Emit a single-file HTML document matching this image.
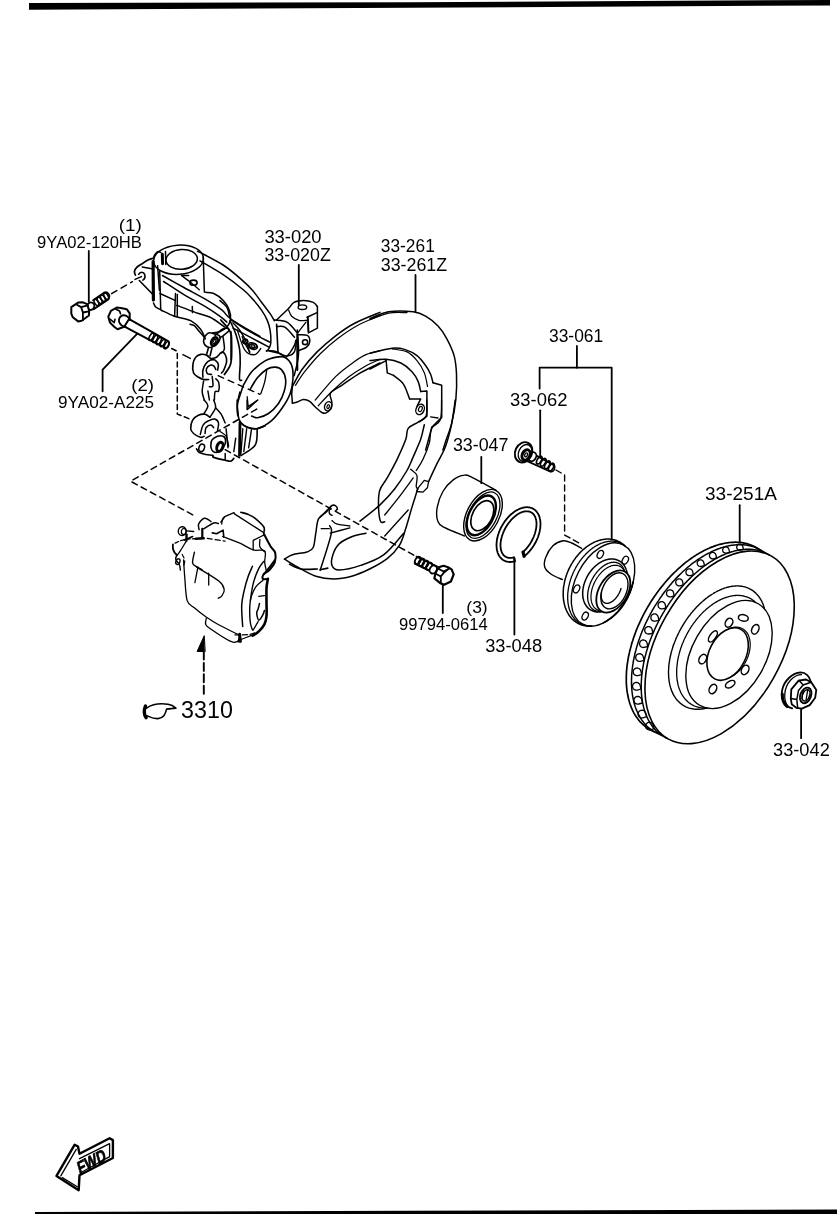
<!DOCTYPE html>
<html><head><meta charset="utf-8"><style>
html,body{margin:0;padding:0;background:#fff;}
svg{display:block;will-change:transform;}
text{font-family:"Liberation Sans",sans-serif;fill:#000;stroke:none;}
</style></head><body>
<svg width="837" height="1214" viewBox="0 0 837 1214">
<g stroke="#000" stroke-linecap="round" stroke-linejoin="round" fill="none">
<path d="M29 3 L410 2.2 L830 0 L830 5.5 L410 7.7 L29 9.7 Z" stroke="none" fill="#000"/>
<path d="M35 1212 L410 1210.8 L837 1209.5 L837 1214 L35 1214 Z" stroke="none" fill="#000"/>
<text x="118.8" y="231.0" font-size="16" textLength="23.1" lengthAdjust="spacingAndGlyphs">(1)</text>
<text x="37.1" y="247.6" font-size="16.5" textLength="104.8" lengthAdjust="spacingAndGlyphs">9YA02-120HB</text>
<text x="131.2" y="390.6" font-size="16" textLength="22.8" lengthAdjust="spacingAndGlyphs">(2)</text>
<text x="58.1" y="408.0" font-size="16.5" textLength="95.9" lengthAdjust="spacingAndGlyphs">9YA02-A225</text>
<text x="264.4" y="242.6" font-size="18" textLength="57.2" lengthAdjust="spacingAndGlyphs">33-020</text>
<text x="264.4" y="261.4" font-size="18" textLength="66.4" lengthAdjust="spacingAndGlyphs">33-020Z</text>
<text x="380.8" y="251.9" font-size="18" textLength="54.0" lengthAdjust="spacingAndGlyphs">33-261</text>
<text x="380.8" y="271.2" font-size="18" textLength="66.3" lengthAdjust="spacingAndGlyphs">33-261Z</text>
<text x="549.0" y="341.7" font-size="18" textLength="54.2" lengthAdjust="spacingAndGlyphs">33-061</text>
<text x="510.1" y="406.1" font-size="18" textLength="57.3" lengthAdjust="spacingAndGlyphs">33-062</text>
<text x="452.9" y="451.4" font-size="18" textLength="55.6" lengthAdjust="spacingAndGlyphs">33-047</text>
<text x="705.0" y="500.2" font-size="18" textLength="71.9" lengthAdjust="spacingAndGlyphs">33-251A</text>
<text x="466.3" y="612.6" font-size="16" textLength="21.4" lengthAdjust="spacingAndGlyphs">(3)</text>
<text x="399.0" y="630.3" font-size="16.5" textLength="88.7" lengthAdjust="spacingAndGlyphs">99794-0614</text>
<text x="485.2" y="651.8" font-size="18" textLength="56.9" lengthAdjust="spacingAndGlyphs">33-048</text>
<text x="181.1" y="717.7" font-size="24" textLength="51.8" lengthAdjust="spacingAndGlyphs">3310</text>
<text x="773.0" y="755.7" font-size="18" textLength="56.8" lengthAdjust="spacingAndGlyphs">33-042</text>
<path d="M88.8 251.0 L88.8 301.5" stroke-width="1.8" fill="none" />
<path d="M137.1 333.8 L102.6 369.7 L102.6 391.3" stroke-width="1.8" fill="none" />
<path d="M298.8 265.0 L298.8 305.0" stroke-width="1.8" fill="none" />
<path d="M415.5 275.0 L415.5 311.5" stroke-width="1.8" fill="none" />
<path d="M576.9 345.9 L576.9 367.7" stroke-width="1.8" fill="none" />
<path d="M539.6 388.6 L539.6 367.7 L611.7 367.7 L611.7 539.4" stroke-width="1.8" fill="none" />
<path d="M540.2 410.3 L540.2 457.6" stroke-width="1.8" fill="none" />
<path d="M481.3 456.8 L481.3 483.2" stroke-width="1.8" fill="none" />
<path d="M739.7 505.2 L739.7 542.3" stroke-width="1.8" fill="none" />
<path d="M442.8 583.0 L442.8 613.1" stroke-width="1.8" fill="none" />
<path d="M514.4 558.3 L514.4 634.6" stroke-width="1.8" fill="none" />
<path d="M801.1 708.8 L801.1 738.2" stroke-width="1.8" fill="none" />
<path d="M660.6 733.7 L659.5 733.4 L658.4 733.1 L657.3 732.8 L656.3 732.4 L655.2 732.0 L654.2 731.6 L653.1 731.2 L652.1 730.7 L651.1 730.2 L650.2 729.7 L649.2 729.1 L648.2 728.5 L647.3 727.9 L646.4 727.3 L645.5 726.6 L644.6 726.0 L643.8 725.2 L642.9 724.5 L642.1 723.7 L641.3 722.9 L640.5 722.1 L639.7 721.3 L639.0 720.4 L638.3 719.5 L637.6 718.6 L636.9 717.6 L636.2 716.7 L635.6 715.7 L634.9 714.7 L634.3 713.6 L633.7 712.6 L633.2 711.5 L632.6 710.4 L632.1 709.2 L631.6 708.1 L631.1 706.9 L630.7 705.7 L630.2 704.5 L629.8 703.3 L629.4 702.0 L629.1 700.8 L628.7 699.5 L628.4 698.2 L628.1 696.8 L627.8 695.5 L627.6 694.1 L627.3 692.7 L627.1 691.3 L626.9 689.9 L626.8 688.5 L626.6 687.1 L626.5 685.6 L626.4 684.1 L626.3 682.6 L626.3 681.1 L626.3 679.6 L626.3 678.1 L626.3 676.6 L626.4 675.0 L626.4 673.5 L626.5 671.9 L626.6 670.3 L626.8 668.7 L626.9 667.1 L627.1 665.5 L627.3 663.9 L627.6 662.3 L627.8 660.6 L628.1 659.0 L628.4 657.3 L628.7 655.7 L629.1 654.0 L629.5 652.4 L629.8 650.7 L630.3 649.0 L630.7 647.4 L631.2 645.7 L631.6 644.0 L632.1 642.3 L632.7 640.7 L633.2 639.0 L633.8 637.3 L634.4 635.6 L635.0 633.9 L635.6 632.3 L636.2 630.6 L636.9 628.9 L637.6 627.2 L638.3 625.6 L639.1 623.9 L639.8 622.3 L640.6 620.6 L641.4 619.0 L642.2 617.3 L643.0 615.7 L643.8 614.1 L644.7 612.4 L645.6 610.8 L646.5 609.2 L647.4 607.6 L648.3 606.0 L649.3 604.5 L650.2 602.9 L651.2 601.3 L652.2 599.8 L653.2 598.3 L654.2 596.7 L655.3 595.2 L656.3 593.7 L657.4 592.3 L658.5 590.8 L659.6 589.3 L660.7 587.9 L661.8 586.5 L663.0 585.1 L664.1 583.7 L665.3 582.3 L666.4 581.0 L667.6 579.6 L668.8 578.3 L670.0 577.0 L671.2 575.7 L672.5 574.4 L673.7 573.2 L674.9 572.0 L676.2 570.8 L677.4 569.6 L678.7 568.4 L680.0 567.3 L681.3 566.2 L682.5 565.1 L683.8 564.0 L685.1 562.9 L686.4 561.9 L687.8 560.9 L689.1 559.9 L690.4 559.0 L691.7 558.0 L693.0 557.1 L694.4 556.2 L695.7 555.4 L697.0 554.5 L698.4 553.7 L699.7 552.9 L701.0 552.2 L702.4 551.5 L703.7 550.8 L705.1 550.1 L706.4 549.4 L707.7 548.8 L709.1 548.2 L710.4 547.6 L711.7 547.1 L713.1 546.6 L714.4 546.1 L715.7 545.6 L717.0 545.2 L718.3 544.8 L719.7 544.4 L721.0 544.1 L722.3 543.8 L723.6 543.5 L724.8 543.2 L726.1 543.0 L727.4 542.8 L728.7 542.6 L729.9 542.5 L731.2 542.4 L732.4 542.3 L733.6 542.3 L734.9 542.2 L736.1 542.2 L737.3 542.3 L738.5 542.3 L739.7 542.4 L740.8 542.6 L742.0 542.7 L743.1 542.9 L744.3 543.1 L745.4 543.3 L746.5 543.6 L747.6 543.9 L748.7 544.2 L749.7 544.6 L750.8 545.0 L751.8 545.4 L752.9 545.8 L753.9 546.3 L754.9 546.8 L755.8 547.3 L756.8 547.9 L757.8 548.5 L758.7 549.1 L759.6 549.7 L760.5 550.4 L761.4 551.0 L762.2 551.8 L763.1 552.5" stroke-width="1.7"/>
<path d="M662.6 735.4 L661.5 735.1 L660.5 734.7 L659.4 734.3 L658.4 733.9 L657.4 733.4 L656.4 732.9 L655.4 732.4 L654.5 731.9 L653.5 731.3 L652.6 730.7 L651.7 730.1 L650.8 729.4 L649.9 728.7 L649.1 728.0 L648.2 727.3 L647.4 726.5 L646.6 725.8 L645.8 724.9 L645.0 724.1 L644.3 723.2 L643.6 722.4 L642.9 721.4 L642.2 720.5 L641.5 719.6 L640.9 718.6 L640.2 717.6 L639.6 716.5 L639.0 715.5 L638.5 714.4 L637.9 713.3 L637.4 712.2 L636.9 711.0 L636.4 709.9 L636.0 708.7 L635.5 707.5 L635.1 706.3 L634.7 705.0 L634.3 703.7 L634.0 702.5 L633.7 701.2 L633.4 699.8 L633.1 698.5 L632.8 697.1 L632.6 695.8 L632.4 694.4 L632.2 693.0 L632.0 691.5 L631.9 690.1 L631.8 688.6 L631.7 687.2 L631.6 685.7 L631.5 684.2 L631.5 682.7 L631.5 681.2 L631.5 679.6 L631.6 678.1 L631.6 676.5 L631.7 675.0 L631.8 673.4 L632.0 671.8 L632.1 670.2 L632.3 668.6 L632.5 667.0 L632.7 665.4 L633.0 663.7 L633.2 662.1 L633.5 660.5 L633.9 658.8 L634.2 657.2 L634.6 655.5 L634.9 653.8 L635.3 652.2 L635.8 650.5 L636.2 648.8 L636.7 647.1 L637.2 645.5 L637.7 643.8 L638.2 642.1 L638.8 640.4 L639.4 638.7 L640.0 637.1 L640.6 635.4 L641.2 633.7 L641.9 632.0 L642.6 630.4 L643.3 628.7 L644.0 627.0 L644.7 625.4 L645.5 623.7 L646.3 622.1 L647.1 620.4 L647.9 618.8 L648.7 617.1 L649.6 615.5 L650.4 613.9 L651.3 612.3 L652.2 610.7 L653.1 609.1 L654.1 607.5 L655.0 605.9 L656.0 604.4 L657.0 602.8 L658.0 601.3 L659.0 599.8 L660.0 598.3 L661.1 596.8 L662.1 595.3 L663.2 593.8 L664.3 592.3 L665.4 590.9 L666.5 589.5 L667.6 588.1 L668.8 586.7 L669.9 585.3 L671.1 583.9 L672.2 582.6 L673.4 581.2 L674.6 579.9 L675.8 578.6 L677.0 577.4 L678.3 576.1 L679.5 574.9 L680.7 573.7 L682.0 572.5 L683.2 571.3 L684.5 570.2 L685.8 569.0 L687.0 567.9 L688.3 566.8 L689.6 565.8 L690.9 564.7 L692.2 563.7 L693.5 562.7 L694.8 561.8 L696.1 560.8 L697.4 559.9 L698.8 559.0 L700.1 558.1 L701.4 557.3 L702.7 556.5 L704.1 555.7 L705.4 554.9 L706.7 554.2 L708.0 553.5 L709.4 552.8 L710.7 552.1 L712.0 551.5 L713.3 550.9 L714.7 550.3 L716.0 549.7 L717.3 549.2 L718.6 548.7 L719.9 548.3 L721.3 547.8 L722.6 547.4 L723.9 547.0 L725.2 546.7 L726.4 546.3 L727.7 546.1 L729.0 545.8 L730.3 545.5 L731.6 545.3 L732.8 545.2 L734.1 545.0 L735.3 544.9 L736.5 544.8 L737.8 544.7 L739.0 544.7 L740.2 544.7 L741.4 544.7 L742.6 544.8 L743.7 544.8 L744.9 545.0 L746.1 545.1 L747.2 545.3 L748.3 545.5 L749.4 545.7 L750.6 546.0 L751.6 546.2 L752.7 546.6 L753.8 546.9 L754.8 547.3 L755.9 547.7 L756.9 548.1 L757.9 548.6 L758.9 549.1 L759.9 549.6 L760.8 550.1 L761.8 550.7 L762.7 551.3 L763.6 551.9 L764.5 552.6 L765.4 553.2" stroke-width="1.5"/>
<path d="M667.2 738.4 L666.2 738.0 L665.2 737.5 L664.3 736.9 L663.3 736.4 L662.4 735.8 L661.5 735.2 L660.6 734.6 L659.8 733.9 L658.9 733.2 L658.1 732.5 L657.3 731.8 L656.4 731.0 L655.7 730.2 L654.9 729.4 L654.2 728.5 L653.4 727.7 L652.7 726.8 L652.0 725.8 L651.4 724.9 L650.7 723.9 L650.1 722.9 L649.5 721.9 L648.9 720.9 L648.3 719.8 L647.8 718.7 L647.3 717.6 L646.7 716.5 L646.3 715.3 L645.8 714.2 L645.4 713.0 L644.9 711.8 L644.5 710.5 L644.2 709.3 L643.8 708.0 L643.5 706.7 L643.2 705.4 L642.9 704.1 L642.6 702.7 L642.4 701.4 L642.2 700.0 L642.0 698.6 L641.8 697.2 L641.6 695.7 L641.5 694.3 L641.4 692.8 L641.3 691.4 L641.3 689.9 L641.2 688.4 L641.2 686.9 L641.2 685.3 L641.2 683.8 L641.3 682.3 L641.4 680.7 L641.5 679.1 L641.6 677.5 L641.7 675.9 L641.9 674.3 L642.1 672.7 L642.3 671.1 L642.5 669.5 L642.8 667.9 L643.1 666.2 L643.4 664.6 L643.7 662.9 L644.1 661.3 L644.4 659.6 L644.8 657.9 L645.2 656.3 L645.7 654.6 L646.1 652.9 L646.6 651.2 L647.1 649.6 L647.6 647.9 L648.1 646.2 L648.7 644.5 L649.3 642.8 L649.9 641.1 L650.5 639.5 L651.2 637.8 L651.8 636.1 L652.5 634.4 L653.2 632.8 L653.9 631.1 L654.7 629.4 L655.4 627.8 L656.2 626.1 L657.0 624.5 L657.8 622.9 L658.6 621.2 L659.5 619.6 L660.3 618.0 L661.2 616.4 L662.1 614.8 L663.0 613.2 L664.0 611.6 L664.9 610.0 L665.9 608.5 L666.9 606.9 L667.9 605.4 L668.9 603.9 L669.9 602.4 L670.9 600.9 L672.0 599.4 L673.0 597.9 L674.1 596.5 L675.2 595.0 L676.3 593.6 L677.4 592.2 L678.6 590.8 L679.7 589.4 L680.8 588.1 L682.0 586.7 L683.2 585.4 L684.4 584.1 L685.5 582.8 L686.7 581.6 L688.0 580.3 L689.2 579.1 L690.4 577.9 L691.6 576.7 L692.9 575.5 L694.1 574.4 L695.4 573.3 L696.6 572.2 L697.9 571.1 L699.2 570.0 L700.5 569.0 L701.7 568.0 L703.0 567.0 L704.3 566.0 L705.6 565.1 L706.9 564.2 L708.2 563.3 L709.5 562.4 L710.8 561.6 L712.1 560.8 L713.4 560.0 L714.8 559.2 L716.1 558.5 L717.4 557.8 L718.7 557.1 L720.0 556.5 L721.3 555.8 L722.6 555.2 L723.9 554.7 L725.2 554.1 L726.5 553.6 L727.8 553.1 L729.1 552.7 L730.4 552.2 L731.7 551.8 L733.0 551.5 L734.2 551.1 L735.5 550.8 L736.8 550.5 L738.0 550.3 L739.3 550.0 L740.5 549.8 L741.8 549.7 L743.0 549.5 L744.2 549.4 L745.4 549.3 L746.6 549.3 L747.8 549.2 L749.0 549.2 L750.2 549.3 L751.3 549.3 L752.5 549.4 L753.6 549.6 L754.8 549.7 L755.9 549.9 L757.0 550.1 L758.1 550.3 L759.2 550.6 L760.2 550.9 L761.3 551.2 L762.3 551.6 L763.4 552.0 L764.4 552.4 L765.4 552.8 L766.4 553.3 L767.3 553.8 L768.3 554.3 L769.2 554.9" stroke-width="1.5"/>
<ellipse cx="719.6" cy="647.4" rx="105.0" ry="62.0" transform="rotate(-60.6 719.6 647.4)" stroke-width="1.6" fill="none"/>
<path d="M654.2 728.6 L650.5 729.8 L649.0 730.0 L647.6 729.5 L646.4 728.6 L645.7 727.2 L645.6 725.7 L646.0 724.3 L647.0 723.1 L648.3 722.4 L649.8 722.3 L651.2 722.7 L652.4 723.6 L653.1 725.0Z" stroke-width="1.3"/>
<path d="M646.7 716.7 L643.0 717.8 L641.5 717.9 L640.1 717.5 L638.9 716.5 L638.2 715.1 L638.1 713.6 L638.5 712.2 L639.5 711.0 L640.9 710.3 L642.4 710.2 L643.8 710.6 L645.0 711.6 L645.7 713.0Z" stroke-width="1.3"/>
<path d="M642.5 703.0 L638.8 704.0 L637.3 704.1 L635.9 703.7 L634.7 702.7 L634.0 701.3 L633.9 699.8 L634.4 698.3 L635.4 697.2 L636.8 696.5 L638.3 696.4 L639.7 696.9 L640.9 697.9 L641.6 699.2Z" stroke-width="1.3"/>
<path d="M641.1 689.0 L637.4 690.1 L635.8 690.2 L634.4 689.7 L633.3 688.6 L632.6 687.3 L632.5 685.8 L633.0 684.3 L634.0 683.2 L635.4 682.5 L636.9 682.4 L638.3 682.9 L639.5 683.9 L640.1 685.3Z" stroke-width="1.3"/>
<path d="M641.7 674.6 L638.0 675.6 L636.5 675.7 L635.1 675.2 L633.9 674.2 L633.3 672.8 L633.2 671.3 L633.7 669.9 L634.7 668.8 L636.1 668.1 L637.6 668.0 L639.0 668.5 L640.2 669.6 L640.8 670.9Z" stroke-width="1.3"/>
<path d="M644.1 660.3 L640.4 661.3 L638.9 661.3 L637.5 660.8 L636.4 659.8 L635.8 658.5 L635.7 657.0 L636.2 655.5 L637.2 654.4 L638.6 653.8 L640.1 653.7 L641.5 654.3 L642.6 655.3 L643.2 656.6Z" stroke-width="1.3"/>
<path d="M647.8 646.5 L644.2 647.4 L642.7 647.5 L641.3 647.0 L640.2 646.0 L639.6 644.6 L639.6 643.1 L640.1 641.7 L641.1 640.6 L642.5 640.0 L643.9 640.0 L645.3 640.5 L646.4 641.5 L647.0 642.8Z" stroke-width="1.3"/>
<path d="M652.9 633.1 L649.3 634.0 L647.8 634.0 L646.4 633.5 L645.4 632.5 L644.8 631.2 L644.7 629.7 L645.2 628.3 L646.2 627.3 L647.6 626.7 L649.0 626.6 L650.4 627.1 L651.5 628.1 L652.1 629.5Z" stroke-width="1.3"/>
<path d="M658.9 620.3 L655.3 621.2 L653.9 621.2 L652.5 620.7 L651.5 619.7 L650.9 618.4 L650.9 616.9 L651.4 615.6 L652.4 614.5 L653.7 613.9 L655.2 613.9 L656.5 614.4 L657.6 615.4 L658.1 616.7Z" stroke-width="1.3"/>
<path d="M666.0 608.0 L662.5 608.8 L661.1 608.9 L659.7 608.4 L658.7 607.4 L658.1 606.1 L658.1 604.6 L658.6 603.3 L659.6 602.3 L660.9 601.7 L662.3 601.7 L663.6 602.2 L664.7 603.2 L665.2 604.5Z" stroke-width="1.3"/>
<path d="M674.2 596.0 L670.8 596.8 L669.4 596.9 L668.1 596.3 L667.1 595.4 L666.5 594.1 L666.5 592.7 L667.0 591.4 L668.0 590.4 L669.3 589.8 L670.7 589.8 L672.0 590.3 L673.0 591.3 L673.5 592.6Z" stroke-width="1.3"/>
<path d="M683.3 585.0 L679.9 585.8 L678.6 585.8 L677.3 585.3 L676.3 584.4 L675.8 583.1 L675.7 581.7 L676.2 580.5 L677.2 579.5 L678.4 578.9 L679.8 578.9 L681.1 579.4 L682.1 580.3 L682.6 581.6Z" stroke-width="1.3"/>
<path d="M693.3 574.8 L690.1 575.6 L688.7 575.7 L687.5 575.2 L686.5 574.2 L686.0 573.0 L685.9 571.7 L686.4 570.4 L687.3 569.5 L688.6 568.9 L689.9 568.9 L691.2 569.4 L692.1 570.3 L692.7 571.5Z" stroke-width="1.3"/>
<path d="M704.5 565.7 L701.3 566.5 L700.0 566.5 L698.7 566.0 L697.8 565.1 L697.3 563.9 L697.2 562.6 L697.7 561.4 L698.6 560.5 L699.8 559.9 L701.1 559.9 L702.3 560.4 L703.3 561.3 L703.8 562.5Z" stroke-width="1.3"/>
<path d="M716.6 558.0 L713.4 558.8 L712.2 558.9 L711.0 558.4 L710.0 557.5 L709.5 556.4 L709.5 555.1 L709.9 553.9 L710.8 553.0 L712.0 552.4 L713.3 552.4 L714.5 552.9 L715.4 553.7 L715.9 554.9Z" stroke-width="1.3"/>
<path d="M729.6 552.3 L726.6 553.1 L725.3 553.2 L724.2 552.7 L723.2 551.9 L722.7 550.8 L722.7 549.5 L723.1 548.4 L724.0 547.4 L725.1 546.9 L726.3 546.9 L727.5 547.3 L728.4 548.2 L728.9 549.3Z" stroke-width="1.3"/>
<path d="M743.4 549.4 L740.5 550.2 L739.3 550.2 L738.2 549.8 L737.3 549.0 L736.7 547.9 L736.7 546.7 L737.1 545.5 L737.9 544.6 L739.0 544.1 L740.2 544.1 L741.4 544.5 L742.3 545.3 L742.8 546.4Z" stroke-width="1.3"/>
<path d="M707.1 708.0 L706.2 708.2 L705.4 708.4 L704.6 708.6 L703.8 708.7 L703.0 708.9 L702.1 709.0 L701.3 709.1 L700.5 709.1 L699.7 709.2 L698.9 709.2 L698.2 709.3 L697.4 709.3 L696.6 709.3 L695.8 709.2 L695.1 709.2 L694.3 709.1 L693.6 709.0 L692.8 708.9 L692.1 708.8 L691.4 708.6 L690.6 708.4 L689.9 708.3 L689.2 708.1 L688.5 707.8 L687.9 707.6 L687.2 707.3 L686.5 707.1 L685.9 706.8 L685.2 706.4 L684.6 706.1 L684.0 705.8 L683.3 705.4 L682.7 705.0 L682.1 704.6 L681.5 704.2 L681.0 703.8 L680.4 703.3 L679.9 702.8 L679.3 702.4 L678.8 701.8 L678.3 701.3 L677.8 700.8 L677.3 700.2 L676.8 699.7 L676.3 699.1 L675.9 698.5 L675.4 697.9 L675.0 697.2 L674.6 696.6 L674.2 695.9 L673.8 695.3 L673.4 694.6 L673.0 693.9 L672.7 693.1 L672.4 692.4 L672.0 691.7 L671.7 690.9 L671.4 690.1 L671.1 689.3 L670.9 688.5 L670.6 687.7 L670.4 686.9 L670.2 686.1 L669.9 685.2 L669.7 684.4 L669.6 683.5 L669.4 682.6 L669.2 681.7 L669.1 680.8 L669.0 679.9 L668.9 679.0 L668.8 678.1 L668.7 677.1 L668.6 676.2 L668.6 675.2 L668.6 674.2 L668.5 673.3 L668.5 672.3 L668.5 671.3 L668.6 670.3 L668.6 669.3 L668.7 668.3 L668.7 667.3 L668.8 666.2 L668.9 665.2 L669.0 664.2 L669.2 663.1 L669.3 662.1 L669.5 661.1 L669.6 660.0 L669.8 658.9 L670.0 657.9 L670.2 656.8 L670.5 655.8 L670.7 654.7 L671.0 653.6 L671.2 652.5 L671.5 651.5 L671.8 650.4 L672.2 649.3 L672.5 648.2 L672.8 647.2 L673.2 646.1 L673.5 645.0 L673.9 643.9 L674.3 642.9 L674.7 641.8 L675.2 640.7 L675.6 639.7 L676.0 638.6 L676.5 637.5 L677.0 636.5 L677.5 635.4 L678.0 634.4 L678.5 633.3 L679.0 632.3 L679.5 631.2 L680.1 630.2 L680.6 629.2 L681.2 628.1 L681.8 627.1 L682.4 626.1 L683.0 625.1 L683.6 624.1 L684.2 623.1 L684.8 622.1 L685.5 621.1 L686.1 620.2 L686.8 619.2 L687.4 618.3 L688.1 617.3 L688.8 616.4 L689.5 615.5 L690.2 614.6 L690.9 613.6 L691.6 612.8 L692.4 611.9 L693.1 611.0 L693.9 610.1 L694.6 609.3 L695.4 608.5 L696.1 607.6 L696.9 606.8 L697.7 606.0 L698.5 605.2 L699.2 604.4 L700.0 603.7 L700.8 602.9 L701.6 602.2 L702.5 601.5 L703.3 600.8 L704.1 600.1 L704.9 599.4 L705.7 598.7 L706.6 598.1 L707.4 597.5 L708.2 596.8 L709.1 596.2 L709.9 595.6 L710.8 595.1 L711.6 594.5 L712.5 594.0 L713.3 593.5 L714.2 592.9 L715.0 592.5 L715.9 592.0 L716.7 591.5 L717.6 591.1 L718.4 590.7 L719.3 590.3 L720.1 589.9 L721.0 589.5 L721.8 589.1 L722.7 588.8 L723.5 588.5 L724.4 588.2 L725.2 587.9 L726.0 587.7 L726.9 587.4 L727.7 587.2 L728.6 587.0 L729.4 586.8 L730.2 586.6 L731.0 586.5 L731.8 586.3 L732.7 586.2 L733.5 586.1 L734.3 586.1 L735.1 586.0 L735.9 586.0 L736.6 585.9 L737.4 585.9 L738.2 585.9 L739.0 586.0 L739.7 586.0 L740.5 586.1 L741.2 586.2 L742.0 586.3 L742.7 586.4 L743.4 586.6 L744.2 586.8 L744.9 586.9 L745.6 587.1 L746.3 587.4 L746.9 587.6 L747.6 587.9 L748.3 588.1 L748.9 588.4 L749.6 588.8 L750.2 589.1 L750.8 589.4 L751.5 589.8 L752.1 590.2 L752.7 590.6 L753.3 591.0 L753.8 591.4 L754.4 591.9 L754.9 592.4 L755.5 592.8 L756.0 593.4 L756.5 593.9 L757.0 594.4 L757.5 595.0 L758.0 595.5 L758.5 596.1 L758.9 596.7 L759.4 597.3 L759.8 598.0 L760.2 598.6 L760.6 599.3 L761.0 599.9 L761.4 600.6 L761.8 601.3 L762.1 602.1 L762.4 602.8 L762.8 603.5 L763.1 604.3 L763.4 605.1 L763.7 605.9 L763.9 606.7 L764.2 607.5 L764.4 608.3" stroke-width="1.4"/>
<path d="M706.3 708.0 L705.5 708.0 L704.8 708.0 L704.1 708.0 L703.4 708.0 L702.7 707.9 L702.0 707.8 L701.3 707.8 L700.6 707.7 L699.9 707.5 L699.2 707.4 L698.5 707.3 L697.9 707.1 L697.2 706.9 L696.5 706.7 L695.9 706.5 L695.3 706.3 L694.6 706.0 L694.0 705.8 L693.4 705.5 L692.8 705.2 L692.2 704.9 L691.6 704.5 L691.0 704.2 L690.5 703.8 L689.9 703.4 L689.4 703.0 L688.8 702.6 L688.3 702.2 L687.8 701.8 L687.3 701.3 L686.8 700.8 L686.3 700.3 L685.8 699.8 L685.3 699.3 L684.9 698.8 L684.4 698.2 L684.0 697.7 L683.6 697.1 L683.2 696.5 L682.8 695.9 L682.4 695.3 L682.0 694.7 L681.6 694.0 L681.3 693.4 L680.9 692.7 L680.6 692.0 L680.3 691.3 L680.0 690.6 L679.7 689.9 L679.4 689.2 L679.2 688.5 L678.9 687.7 L678.7 687.0 L678.5 686.2 L678.2 685.4 L678.0 684.6 L677.9 683.8 L677.7 683.0 L677.5 682.2 L677.4 681.3 L677.2 680.5 L677.1 679.7 L677.0 678.8 L676.9 677.9 L676.8 677.1 L676.8 676.2 L676.7 675.3 L676.7 674.4 L676.7 673.5 L676.7 672.6 L676.7 671.7 L676.7 670.7 L676.7 669.8 L676.7 668.9 L676.8 667.9 L676.9 667.0 L677.0 666.1 L677.1 665.1 L677.2 664.1 L677.3 663.2 L677.4 662.2 L677.6 661.3 L677.7 660.3 L677.9 659.3 L678.1 658.3 L678.3 657.4 L678.5 656.4 L678.8 655.4 L679.0 654.4 L679.3 653.4 L679.5 652.5 L679.8 651.5 L680.1 650.5 L680.4 649.5 L680.7 648.5 L681.1 647.6 L681.4 646.6 L681.8 645.6 L682.1 644.6 L682.5 643.6 L682.9 642.7 L683.3 641.7 L683.7 640.7 L684.1 639.8 L684.6 638.8 L685.0 637.9 L685.5 636.9 L686.0 636.0 L686.4 635.0 L686.9 634.1 L687.4 633.2 L688.0 632.2 L688.5 631.3 L689.0 630.4 L689.6 629.5 L690.1 628.6 L690.7 627.7 L691.2 626.8 L691.8 625.9 L692.4 625.1 L693.0 624.2 L693.6 623.4 L694.2 622.5 L694.9 621.7 L695.5 620.9 L696.1 620.0 L696.8 619.2 L697.4 618.4 L698.1 617.6 L698.8 616.9 L699.4 616.1 L700.1 615.3 L700.8 614.6 L701.5 613.9 L702.2 613.1 L702.9 612.4 L703.6 611.7 L704.3 611.1 L705.1 610.4 L705.8 609.7 L706.5 609.1 L707.3 608.4 L708.0 607.8 L708.8 607.2 L709.5 606.6 L710.3 606.0 L711.0 605.5 L711.8 604.9 L712.5 604.4 L713.3 603.8 L714.1 603.3 L714.8 602.8 L715.6 602.4 L716.4 601.9 L717.2 601.4 L717.9 601.0 L718.7 600.6 L719.5 600.2 L720.3 599.8 L721.1 599.4 L721.8 599.1 L722.6 598.7 L723.4 598.4 L724.2 598.1 L724.9 597.8 L725.7 597.5 L726.5 597.3 L727.3 597.0 L728.0 596.8 L728.8 596.6 L729.6 596.4 L730.3 596.2 L731.1 596.1 L731.9 595.9 L732.6 595.8 L733.4 595.7 L734.1 595.6 L734.9 595.5 L735.6 595.5 L736.3 595.4 L737.1 595.4 L737.8 595.4 L738.5 595.4 L739.2 595.4 L739.9 595.5 L740.6 595.6 L741.3 595.6 L742.0 595.7 L742.7 595.9 L743.4 596.0 L744.1 596.1 L744.7 596.3 L745.4 596.5 L746.1 596.7 L746.7 596.9 L747.3 597.1 L748.0 597.4 L748.6 597.6 L749.2 597.9 L749.8 598.2 L750.4 598.5 L751.0 598.9 L751.6 599.2 L752.1 599.6 L752.7 600.0 L753.2 600.4 L753.8 600.8 L754.3 601.2 L754.8 601.6 L755.3 602.1" stroke-width="1.3"/>
<ellipse cx="729.0" cy="654.5" rx="58.6" ry="36.6" transform="rotate(-60.0 729.0 654.5)" stroke-width="1.4" fill="none"/>
<ellipse cx="727.6" cy="654.0" rx="28.0" ry="18.3" transform="rotate(-62.6 727.6 654.0)" stroke-width="1.6" fill="none"/>
<path d="M729.9 628.4 L730.3 628.3 L730.6 628.2 L731.0 628.0 L731.4 627.9 L731.7 627.8 L732.1 627.7 L732.4 627.6 L732.8 627.6 L733.1 627.5 L733.5 627.4 L733.9 627.4 L734.2 627.3 L734.6 627.3 L734.9 627.2 L735.2 627.2 L735.6 627.2 L735.9 627.2 L736.3 627.2 L736.6 627.2 L737.0 627.2 L737.3 627.2 L737.6 627.2 L737.9 627.3 L738.3 627.3 L738.6 627.4 L738.9 627.4 L739.2 627.5 L739.6 627.6 L739.9 627.7 L740.2 627.7 L740.5 627.8 L740.8 627.9 L741.1 628.1 L741.4 628.2 L741.7 628.3 L742.0 628.4 L742.3 628.6 L742.5 628.7 L742.8 628.9 L743.1 629.1 L743.4 629.2 L743.6 629.4 L743.9 629.6 L744.1 629.8 L744.4 630.0 L744.6 630.2 L744.9 630.4 L745.1 630.6 L745.4 630.9 L745.6 631.1 L745.8 631.3 L746.0 631.6 L746.2 631.9 L746.5 632.1 L746.7 632.4 L746.9 632.7 L747.0 632.9 L747.2 633.2 L747.4 633.5 L747.6 633.8 L747.8 634.1 L747.9 634.4 L748.1 634.7 L748.3 635.1 L748.4 635.4 L748.5 635.7 L748.7 636.1 L748.8 636.4 L748.9 636.8 L749.1 637.1 L749.2 637.5 L749.3 637.8 L749.4 638.2 L749.5 638.6 L749.6 638.9 L749.7 639.3 L749.7 639.7 L749.8 640.1 L749.9 640.5 L749.9 640.9 L750.0 641.3 L750.0 641.7 L750.1 642.1 L750.1 642.5 L750.1 642.9 L750.2 643.3 L750.2 643.8 L750.2 644.2 L750.2 644.6 L750.2 645.0 L750.2 645.5 L750.2 645.9 L750.1 646.3 L750.1 646.8 L750.1 647.2 L750.0 647.6 L750.0 648.1 L749.9 648.5 L749.9 649.0 L749.8 649.4 L749.8 649.9 L749.7 650.3 L749.6 650.8 L749.5 651.2 L749.4 651.7 L749.3 652.1 L749.2 652.6 L749.1 653.0 L749.0 653.5 L748.8 653.9 L748.7 654.4 L748.6 654.8 L748.4 655.3 L748.3 655.7 L748.1 656.2 L748.0 656.6 L747.8 657.1 L747.6 657.5 L747.5 657.9 L747.3 658.4 L747.1 658.8 L746.9 659.3 L746.7 659.7 L746.5 660.1 L746.3 660.6 L746.1 661.0 L745.8 661.4 L745.6 661.8 L745.4 662.3 L745.2 662.7 L744.9 663.1 L744.7 663.5 L744.4 663.9 L744.2 664.3 L743.9 664.7 L743.7 665.1 L743.4 665.5 L743.1 665.9 L742.9 666.3 L742.6 666.7 L742.3 667.1 L742.0 667.5 L741.7 667.8 L741.4 668.2 L741.1 668.6 L740.8 668.9 L740.5 669.3 L740.2 669.6 L739.9 670.0 L739.6 670.3 L739.3 670.6 L739.0 671.0 L738.7 671.3 L738.3 671.6 L738.0 671.9 L737.7 672.2 L737.3 672.5 L737.0 672.8 L736.7 673.1 L736.3 673.4 L736.0 673.6 L735.6 673.9 L735.3 674.2 L735.0 674.4 L734.6 674.7 L734.3 674.9 L733.9 675.1 L733.6 675.4 L733.2 675.6 L732.9 675.8 L732.5 676.0 L732.1 676.2" stroke-width="1.2"/>
<ellipse cx="743.3" cy="617.9" rx="5.0" ry="3.2" transform="rotate(10.0 743.3 617.9)" stroke-width="1.5" fill="none"/>
<ellipse cx="729.0" cy="622.7" rx="4.8" ry="3.5" transform="rotate(-60.0 729.0 622.7)" stroke-width="1.5" fill="none"/>
<ellipse cx="755.3" cy="629.3" rx="5.0" ry="3.4" transform="rotate(-65.0 755.3 629.3)" stroke-width="1.5" fill="none"/>
<ellipse cx="712.9" cy="636.4" rx="6.5" ry="3.0" transform="rotate(-55.0 712.9 636.4)" stroke-width="1.5" fill="none"/>
<ellipse cx="702.7" cy="659.1" rx="5.0" ry="3.5" transform="rotate(-62.0 702.7 659.1)" stroke-width="1.5" fill="none"/>
<ellipse cx="745.1" cy="669.9" rx="5.0" ry="3.5" transform="rotate(-62.0 745.1 669.9)" stroke-width="1.5" fill="none"/>
<ellipse cx="730.2" cy="684.2" rx="5.2" ry="3.0" transform="rotate(-30.0 730.2 684.2)" stroke-width="1.5" fill="none"/>
<ellipse cx="712.9" cy="689.0" rx="5.0" ry="3.5" transform="rotate(-62.0 712.9 689.0)" stroke-width="1.5" fill="none"/>
<path d="M 792.2 708.3 C 783.9 706.5 780.7 698.6 782.1 690.4 C 783.9 680.2 793.1 672.9 800.5 672.4 C 806.0 672.4 809.7 676.6 810.6 681.2" stroke-width="1.8" fill="none" />
<path d="M 787.6 706.0 C 783.0 699.6 783.9 687.6 790.4 680.2 C 794.0 676.6 798.6 674.7 801.4 674.7" stroke-width="1.3" fill="none" />
<path d="M 782.3 694.0 C 782.1 700.5 784.1 704.2 787.1 706.5" stroke-width="3.0" fill="none" />
<path d="M 790.8 698.6 L 791.3 689.4 L 798.6 680.7 L 806.0 679.5 L 811.1 682.1 L 816.3 689.9 L 815.2 697.7 L 809.7 705.1 L 801.9 708.6 L 796.3 707.8 L 791.7 704.2 Z" stroke-width="1.8" fill="#fff" />
<path d="M 799.1 680.4 L 803.2 685.0 L 811.1 682.3 M 803.2 685.0 L 798.5 690.4 L 796.8 699.6 L 790.8 698.6 M 796.8 699.6 L 797.7 707.8" stroke-width="1.5" fill="none" />
<ellipse cx="805.7" cy="695.4" rx="5.3" ry="8.1" transform="rotate(22 805.7 695.4)" stroke-width="1.9" fill="none" />
<ellipse cx="806.0" cy="695.4" rx="3.5" ry="5.9" transform="rotate(22 806.0 695.4)" stroke-width="1.5" fill="none" />
<path d="M 803.2 690.4 L 801.9 698.6 M 807.8 689.4 L 806.0 700.5" stroke-width="1.3" fill="none" />
<path d="M495.9 490.1 C492.1 488.1 478.3 480.4 473.0 477.9 C467.8 475.4 467.8 474.7 464.4 475.1 C461.1 475.4 456.5 477.3 452.9 480.1 C449.4 482.8 445.5 487.0 442.9 491.5 C440.3 496.1 438.0 502.3 437.2 507.3 C436.3 512.3 436.7 518.3 437.9 521.6 C439.1 525.0 439.9 525.0 444.3 527.4 C448.8 529.8 461.1 534.6 464.4 536.0" stroke-width="1.4" fill="none" />
<ellipse cx="483.0" cy="515.2" rx="27.9" ry="16.1" transform="rotate(-62.0 483.0 515.2)" stroke-width="1.4" fill="none"/>
<ellipse cx="483.0" cy="515.2" rx="25.2" ry="13.8" transform="rotate(-62.0 483.0 515.2)" stroke-width="1.3" fill="none"/>
<ellipse cx="481.3" cy="515.4" rx="21.5" ry="12.0" transform="rotate(-62.0 481.3 515.4)" stroke-width="2.4" fill="none"/>
<ellipse cx="482.3" cy="515.7" rx="16.2" ry="9.8" transform="rotate(-62.0 482.3 515.7)" stroke-width="1.7" fill="none"/>
<path d="M514.8 561.3 L514.1 561.5 L513.5 561.6 L512.9 561.7 L512.3 561.8 L511.7 561.9 L511.0 561.9 L510.4 562.0 L509.8 562.0 L509.3 561.9 L508.7 561.9 L508.1 561.8 L507.5 561.7 L507.0 561.6 L506.5 561.5 L505.9 561.3 L505.4 561.1 L504.9 560.9 L504.4 560.7 L503.9 560.5 L503.4 560.2 L503.0 559.9 L502.5 559.6 L502.1 559.2 L501.7 558.9 L501.3 558.5 L500.9 558.1 L500.5 557.7 L500.1 557.2 L499.8 556.8 L499.5 556.3 L499.1 555.8 L498.8 555.3 L498.6 554.8 L498.3 554.2 L498.1 553.6 L497.8 553.1 L497.6 552.5 L497.4 551.8 L497.3 551.2 L497.1 550.6 L497.0 549.9 L496.8 549.2 L496.7 548.6 L496.7 547.9 L496.6 547.2 L496.6 546.4 L496.5 545.7 L496.5 545.0 L496.5 544.2 L496.6 543.5 L496.6 542.7 L496.7 541.9 L496.8 541.2 L496.9 540.4 L497.0 539.6 L497.2 538.8 L497.3 538.0 L497.5 537.2 L497.7 536.4 L497.9 535.6 L498.1 534.8 L498.4 534.0 L498.7 533.2 L498.9 532.4 L499.2 531.6 L499.6 530.8 L499.9 530.0 L500.2 529.3 L500.6 528.5 L501.0 527.7 L501.4 526.9 L501.8 526.2 L502.2 525.4 L502.7 524.7 L503.1 523.9 L503.6 523.2 L504.1 522.5 L504.5 521.7 L505.0 521.0 L505.6 520.4 L506.1 519.7 L506.6 519.0 L507.2 518.4 L507.7 517.7 L508.3 517.1 L508.9 516.5 L509.4 515.9 L510.0 515.3 L510.6 514.8 L511.2 514.2 L511.8 513.7 L512.5 513.2 L513.1 512.7 L513.7 512.2 L514.3 511.8 L515.0 511.3 L515.6 510.9 L516.2 510.5 L516.9 510.2 L517.5 509.8 L518.2 509.5 L518.8 509.2 L519.5 508.9 L520.1 508.6 L520.7 508.4 L521.4 508.2 L522.0 508.0 L522.6 507.8 L523.3 507.6 L523.9 507.5 L524.5 507.4 L525.1 507.3 L525.7 507.3 L526.3 507.2 L526.9 507.2 L527.5 507.2 L528.1 507.3 L528.7 507.3 L529.3 507.4 L529.8 507.5 L530.4 507.7 L530.9 507.8 L531.4 508.0 L531.9 508.2 L532.4 508.4 L532.9 508.6 L533.4 508.9 L533.9 509.2 L534.3 509.5 L534.8 509.8 L535.2 510.2 L535.6 510.6 L536.0 511.0 L536.4 511.4 L536.7 511.8 L537.1 512.3 L537.4 512.7 L537.7 513.2 L538.1 513.7 L538.3 514.3 L538.6 514.8 L538.9 515.4 L539.1 515.9 L539.3 516.5 L539.5 517.1 L539.7 517.8 L539.8 518.4 L540.0 519.1 L540.1 519.7 L540.2 520.4 L540.3 521.1 L540.4 521.8 L540.4 522.5 L540.5 523.2 L540.5 524.0 L540.5 524.7 L540.4 525.5 L540.4 526.2 L540.3 527.0 L540.3 527.8 L540.2 528.5 L540.0 529.3 L539.9 530.1 L539.7 530.9 L539.6 531.7 L539.4 532.5 L539.2 533.3 L538.9 534.1 L538.7 534.9 L538.4 535.7 L538.2 536.5 L537.9 537.3 L537.6 538.1 L537.2 538.9 L536.9 539.7 L536.5 540.5 L536.1 541.2 L535.8 542.0 L535.4 542.8 L534.9 543.5 L534.5 544.3 L534.1 545.0 L533.6 545.8 L533.1 546.5 L532.6 547.2 L532.1 547.9 L531.6 548.6 L531.1 549.3 L530.6 550.0 L530.0 550.6 L529.5 551.3 L528.9 551.9 L528.3 552.5 L527.8 553.1 L527.2 553.7 L526.6 554.2 L526.0 554.8 L525.4 555.3 L524.8 555.8 L524.1 556.3" stroke-width="1.8"/>
<path d="M514.0 557.4 L513.5 557.5 L513.0 557.6 L512.6 557.7 L512.1 557.8 L511.6 557.9 L511.1 557.9 L510.6 557.9 L510.2 557.9 L509.7 557.9 L509.3 557.9 L508.8 557.8 L508.4 557.8 L508.0 557.7 L507.5 557.6 L507.1 557.4 L506.7 557.3 L506.3 557.1 L506.0 556.9 L505.6 556.7 L505.2 556.5 L504.9 556.2 L504.6 556.0 L504.2 555.7 L503.9 555.4 L503.6 555.1 L503.3 554.8 L503.1 554.4 L502.8 554.0 L502.6 553.7 L502.3 553.3 L502.1 552.9 L501.9 552.4 L501.7 552.0 L501.5 551.5 L501.4 551.1 L501.2 550.6 L501.1 550.1 L500.9 549.6 L500.8 549.0 L500.8 548.5 L500.7 547.9 L500.6 547.4 L500.6 546.8 L500.5 546.2 L500.5 545.6 L500.5 545.0 L500.5 544.4 L500.5 543.8 L500.6 543.2 L500.6 542.6 L500.7 541.9 L500.8 541.3 L500.9 540.6 L501.0 540.0 L501.2 539.3 L501.3 538.7 L501.5 538.0 L501.6 537.3 L501.8 536.7 L502.0 536.0 L502.2 535.3 L502.5 534.6 L502.7 534.0 L503.0 533.3 L503.2 532.6 L503.5 531.9 L503.8 531.3 L504.1 530.6 L504.4 529.9 L504.8 529.3 L505.1 528.6 L505.5 528.0 L505.8 527.3 L506.2 526.7 L506.6 526.1 L507.0 525.4 L507.4 524.8 L507.8 524.2 L508.2 523.6 L508.7 523.0 L509.1 522.4 L509.6 521.9 L510.0 521.3 L510.5 520.8 L510.9 520.2 L511.4 519.7 L511.9 519.2 L512.4 518.7 L512.9 518.2 L513.4 517.7 L513.9 517.3 L514.4 516.8 L514.9 516.4 L515.4 516.0 L515.9 515.6 L516.4 515.2 L516.9 514.8 L517.5 514.5 L518.0 514.1 L518.5 513.8 L519.0 513.5 L519.5 513.2 L520.1 513.0 L520.6 512.7 L521.1 512.5 L521.6 512.3 L522.1 512.1 L522.6 511.9 L523.1 511.8 L523.6 511.7 L524.1 511.5 L524.6 511.4 L525.1 511.4 L525.6 511.3 L526.1 511.3 L526.5 511.3 L527.0 511.3 L527.4 511.3 L527.9 511.3 L528.3 511.4 L528.8 511.5 L529.2 511.6 L529.6 511.7 L530.0 511.8 L530.4 512.0 L530.8 512.2 L531.2 512.4 L531.5 512.6 L531.9 512.8 L532.2 513.0 L532.6 513.3 L532.9 513.6 L533.2 513.9 L533.5 514.2 L533.8 514.6 L534.0 514.9 L534.3 515.3 L534.5 515.7 L534.8 516.1 L535.0 516.5 L535.2 516.9 L535.4 517.4 L535.5 517.8 L535.7 518.3 L535.8 518.8 L536.0 519.3 L536.1 519.8 L536.2 520.4 L536.3 520.9 L536.4 521.4 L536.4 522.0 L536.5 522.6 L536.5 523.2 L536.5 523.8 L536.5 524.4 L536.5 525.0 L536.4 525.6 L536.4 526.2 L536.3 526.9 L536.3 527.5 L536.2 528.1 L536.1 528.8 L535.9 529.4 L535.8 530.1 L535.6 530.8 L535.5 531.4 L535.3 532.1 L535.1 532.8 L534.9 533.5 L534.7 534.1 L534.4 534.8 L534.2 535.5 L533.9 536.2 L533.7 536.8 L533.4 537.5 L533.1 538.2 L532.8 538.8 L532.4 539.5 L532.1 540.1 L531.8 540.8 L531.4 541.5 L531.0 542.1 L530.7 542.7 L530.3 543.4 L529.9 544.0 L529.5 544.6 L529.0 545.2 L528.6 545.8 L528.2 546.4 L527.7 547.0 L527.3 547.5 L526.8 548.1 L526.4 548.6 L525.9 549.2 L525.4 549.7 L524.9 550.2 L524.4 550.7 L524.0 551.2 L523.5 551.6 L523.0 552.1" stroke-width="1.8"/>
<path d="M524.1 556.3 L523.0 552.1" stroke-width="3.2"/>
<path d="M514.8 561.3 L514.0 557.4" stroke-width="2.0"/>
<path d="M581.6 548.4 C579.9 547.5 574.7 544.2 571.6 543.0 C568.5 541.7 566.1 540.3 563.0 540.8 C559.9 541.3 555.8 543.1 552.9 545.8 C550.1 548.6 547.1 553.7 545.8 557.3 C544.4 560.9 543.8 564.5 544.8 567.3 C545.7 570.2 548.6 572.5 551.5 574.5 C554.4 576.5 560.5 578.7 562.3 579.5" stroke-width="1.4" fill="none" />
<path d="M633.2 581.8 L633.0 582.6 L632.8 583.4 L632.7 584.1 L632.5 584.9 L632.3 585.6 L632.1 586.4 L631.9 587.2 L631.6 587.9 L631.4 588.7 L631.2 589.4 L630.9 590.2 L630.6 590.9 L630.4 591.7 L630.1 592.4 L629.8 593.1 L629.5 593.9 L629.2 594.6 L628.8 595.3 L628.5 596.1 L628.2 596.8 L627.8 597.5 L627.5 598.2 L627.1 598.9 L626.7 599.6 L626.3 600.3 L625.9 601.0 L625.5 601.7 L625.1 602.4 L624.7 603.0 L624.3 603.7 L623.8 604.4 L623.4 605.0 L623.0 605.7 L622.5 606.3 L622.0 607.0 L621.6 607.6 L621.1 608.2 L620.6 608.8 L620.1 609.4 L619.6 610.0 L619.1 610.6 L618.6 611.2 L618.1 611.7 L617.6 612.3 L617.0 612.9 L616.5 613.4 L616.0 613.9 L615.4 614.5 L614.9 615.0 L614.3 615.5 L613.7 616.0 L613.2 616.4 L612.6 616.9 L612.0 617.4 L611.5 617.8 L610.9 618.3 L610.3 618.7 L609.7 619.1 L609.1 619.5 L608.5 619.9 L607.9 620.3 L607.3 620.7 L606.7 621.1 L606.1 621.4 L605.5 621.7 L604.9 622.1 L604.3 622.4 L603.7 622.7" stroke-width="1.5"/>
<path d="M591.4 626.1 L590.8 626.1 L590.2 626.1 L589.6 626.2 L589.0 626.1 L588.4 626.1 L587.8 626.1 L587.2 626.0 L586.6 626.0 L586.0 625.9 L585.4 625.8 L584.9 625.7 L584.3 625.6 L583.7 625.5 L583.2 625.4 L582.6 625.2 L582.1 625.0 L581.5 624.9 L581.0 624.7 L580.5 624.5 L579.9 624.2 L579.4 624.0 L578.9 623.8 L578.4 623.5 L577.9 623.3 L577.4 623.0 L576.9 622.7 L576.4 622.4 L575.9 622.1 L575.4 621.7 L575.0 621.4 L574.5 621.1 L574.1 620.7 L573.6 620.3 L573.2 619.9 L572.8 619.5 L572.3 619.1 L571.9 618.7 L571.5 618.3 L571.1 617.8 L570.7 617.4 L570.4 616.9 L570.0 616.4 L569.6 616.0 L569.3 615.5 L568.9 615.0 L568.6 614.5 L568.3 613.9 L568.0 613.4 L567.7 612.9 L567.4 612.3 L567.1 611.7 L566.8 611.2 L566.5 610.6 L566.3 610.0 L566.0 609.4 L565.8 608.8 L565.6 608.2 L565.3 607.6 L565.1 607.0 L564.9 606.3 L564.8 605.7 L564.6 605.0 L564.4 604.4 L564.3 603.7 L564.1 603.0 L564.0 602.4 L563.9 601.7 L563.7 601.0 L563.6 600.3 L563.5 599.6 L563.5 598.9 L563.4 598.2 L563.3 597.5 L563.3 596.8 L563.2 596.1 L563.2 595.3 L563.2 594.6 L563.2 593.9 L563.2 593.1 L563.2 592.4 L563.2 591.7 L563.3 590.9 L563.3 590.2 L563.4 589.4 L563.4 588.7 L563.5 587.9 L563.6 587.2 L563.7 586.4 L563.8 585.6 L564.0 584.9 L564.1 584.1 L564.2 583.4 L564.4 582.6 L564.6 581.8 L564.7 581.1 L564.9 580.3 L565.1 579.6 L565.3 578.8 L565.5 578.0 L565.8 577.3 L566.0 576.5 L566.2 575.8 L566.5 575.0 L566.8 574.3 L567.0 573.5 L567.3 572.8 L567.6 572.1 L567.9 571.3 L568.2 570.6 L568.6 569.9 L568.9 569.1 L569.2 568.4 L569.6 567.7 L569.9 567.0 L570.3 566.3 L570.7 565.6 L571.1 564.9 L571.5 564.2 L571.9 563.5 L572.3 562.8 L572.7 562.2 L573.1 561.5 L573.6 560.8 L574.0 560.2 L574.4 559.5 L574.9 558.9 L575.4 558.2 L575.8 557.6 L576.3 557.0 L576.8 556.4 L577.3 555.8 L577.8 555.2 L578.3 554.6 L578.8 554.0 L579.3 553.5 L579.8 552.9 L580.4 552.3 L580.9 551.8 L581.4 551.3 L582.0 550.7 L582.5 550.2 L583.1 549.7 L583.7 549.2 L584.2 548.8 L584.8 548.3 L585.4 547.8 L585.9 547.4 L586.5 546.9 L587.1 546.5 L587.7 546.1 L588.3 545.7 L588.9 545.3 L589.5 544.9 L590.1 544.5 L590.7 544.1 L591.3 543.8 L591.9 543.5 L592.5 543.1 L593.1 542.8 L593.7 542.5 L594.3 542.2 L594.9 541.9 L595.6 541.7 L596.2 541.4 L596.8 541.2 L597.4 541.0 L598.0 540.7 L598.7 540.5 L599.3 540.3 L599.9 540.2 L600.5 540.0 L601.1 539.8 L601.7 539.7 L602.4 539.6 L603.0 539.5 L603.6 539.4 L604.2 539.3 L604.8 539.2 L605.4 539.2 L606.0 539.1 L606.6 539.1 L607.2 539.1 L607.8 539.0 L608.4 539.1 L609.0 539.1 L609.6 539.1 L610.2 539.2 L610.8 539.2 L611.4 539.3 L612.0 539.4 L612.5 539.5 L613.1 539.6 L613.7 539.7 L614.2 539.8 L614.8 540.0 L615.3 540.2 L615.9 540.3 L616.4 540.5 L616.9 540.7 L617.5 541.0 L618.0 541.2 L618.5 541.4 L619.0 541.7 L619.5 541.9 L620.0 542.2 L620.5 542.5 L621.0 542.8 L621.5 543.1 L622.0 543.5 L622.4 543.8 L622.9 544.1 L623.3 544.5 L623.8 544.9 L624.2 545.3 L624.6 545.7" stroke-width="1.5"/>
<path d="M633.0 582.3 L632.9 583.1 L632.7 583.8 L632.5 584.5 L632.3 585.3 L632.1 586.0 L631.8 586.8 L631.6 587.5 L631.4 588.2 L631.1 589.0 L630.9 589.7 L630.6 590.4 L630.3 591.2 L630.0 591.9 L629.7 592.6 L629.4 593.4 L629.1 594.1 L628.8 594.8 L628.5 595.5 L628.1 596.2 L627.8 596.9 L627.4 597.6 L627.1 598.3 L626.7 599.0 L626.3 599.7 L625.9 600.4 L625.5 601.1 L625.1 601.7 L624.7 602.4 L624.3 603.1 L623.9 603.7 L623.5 604.4 L623.0 605.0 L622.6 605.7 L622.1 606.3 L621.7 606.9 L621.2 607.5 L620.8 608.1 L620.3 608.7 L619.8 609.3 L619.3 609.9 L618.8 610.5 L618.3 611.1 L617.8 611.6 L617.3 612.2 L616.8 612.7 L616.3 613.3 L615.8 613.8 L615.3 614.3 L614.7 614.8 L614.2 615.3 L613.7 615.8 L613.1 616.3 L612.6 616.7 L612.0 617.2 L611.5 617.7 L610.9 618.1 L610.3 618.5 L609.8 618.9 L609.2 619.3 L608.7 619.7 L608.1 620.1 L607.5 620.5 L606.9 620.9 L606.4 621.2 L605.8 621.6 L605.2 621.9 L604.6 622.2 L604.1 622.5 L603.5 622.8" stroke-width="1.3"/>
<path d="M591.9 626.1 L591.4 626.1 L590.8 626.1 L590.3 626.1 L589.7 626.1 L589.2 626.1 L588.6 626.0 L588.1 626.0 L587.6 625.9 L587.0 625.9 L586.5 625.8 L586.0 625.7 L585.5 625.6 L584.9 625.4 L584.4 625.3 L583.9 625.1 L583.4 625.0 L582.9 624.8 L582.5 624.6 L582.0 624.4 L581.5 624.2 L581.0 624.0 L580.6 623.7 L580.1 623.5 L579.7 623.2 L579.2 623.0 L578.8 622.7 L578.3 622.4 L577.9 622.1 L577.5 621.7 L577.1 621.4 L576.7 621.1 L576.3 620.7 L575.9 620.3 L575.5 620.0 L575.2 619.6 L574.8 619.2 L574.4 618.8 L574.1 618.3 L573.8 617.9 L573.4 617.5 L573.1 617.0 L572.8 616.5 L572.5 616.1 L572.2 615.6 L571.9 615.1 L571.6 614.6 L571.3 614.1 L571.1 613.6 L570.8 613.0 L570.6 612.5 L570.4 611.9 L570.1 611.4 L569.9 610.8 L569.7 610.2 L569.5 609.7 L569.3 609.1 L569.1 608.5 L569.0 607.9 L568.8 607.3 L568.7 606.6 L568.5 606.0 L568.4 605.4 L568.3 604.7 L568.2 604.1 L568.1 603.4 L568.0 602.8 L567.9 602.1 L567.9 601.4 L567.8 600.8 L567.8 600.1 L567.7 599.4 L567.7 598.7 L567.7 598.0 L567.7 597.3 L567.7 596.6 L567.7 595.9 L567.7 595.2 L567.7 594.5 L567.8 593.8 L567.8 593.0 L567.9 592.3 L568.0 591.6 L568.1 590.9 L568.2 590.1 L568.3 589.4 L568.4 588.7 L568.5 587.9 L568.6 587.2 L568.8 586.4 L568.9 585.7 L569.1 585.0 L569.3 584.2 L569.5 583.5 L569.6 582.7 L569.9 582.0 L570.1 581.3 L570.3 580.5 L570.5 579.8 L570.8 579.0 L571.0 578.3 L571.3 577.6 L571.5 576.8 L571.8 576.1 L572.1 575.4 L572.4 574.7 L572.7 573.9 L573.0 573.2 L573.3 572.5 L573.7 571.8 L574.0 571.1 L574.3 570.4 L574.7 569.7 L575.1 569.0 L575.4 568.3 L575.8 567.6 L576.2 566.9 L576.6 566.2 L577.0 565.6 L577.4 564.9 L577.8 564.2 L578.2 563.6 L578.7 562.9 L579.1 562.3 L579.5 561.6 L580.0 561.0 L580.4 560.4 L580.9 559.8 L581.4 559.2 L581.8 558.6 L582.3 558.0 L582.8 557.4 L583.3 556.8 L583.8 556.2 L584.3 555.7 L584.8 555.1 L585.3 554.6 L585.8 554.0 L586.3 553.5 L586.9 553.0 L587.4 552.5 L587.9 552.0 L588.5 551.5 L589.0 551.0 L589.6 550.5 L590.1 550.1 L590.7 549.6 L591.2 549.2 L591.8 548.8 L592.3 548.3 L592.9 547.9 L593.5 547.5 L594.0 547.2 L594.6 546.8 L595.2 546.4 L595.8 546.1 L596.3 545.7 L596.9 545.4 L597.5 545.1 L598.1 544.8 L598.7 544.5 L599.2 544.2 L599.8 543.9 L600.4 543.7 L601.0 543.4 L601.6 543.2 L602.1 543.0 L602.7 542.8 L603.3 542.6 L603.9 542.4 L604.5 542.2 L605.1 542.1 L605.6 541.9 L606.2 541.8 L606.8 541.7 L607.4 541.6 L607.9 541.5 L608.5 541.4 L609.1 541.3 L609.6 541.3 L610.2 541.2 L610.8 541.2 L611.3 541.2 L611.9 541.2 L612.4 541.2 L613.0 541.2 L613.5 541.2 L614.0 541.3 L614.6 541.4 L615.1 541.4 L615.6 541.5 L616.2 541.6 L616.7 541.7 L617.2 541.9 L617.7 542.0 L618.2 542.1 L618.7 542.3 L619.2 542.5 L619.7 542.7 L620.2 542.9 L620.6 543.1 L621.1 543.3 L621.6 543.5 L622.0 543.8 L622.5 544.1 L622.9 544.3 L623.4 544.6 L623.8 544.9 L624.2 545.2 L624.6 545.5 L625.0 545.9" stroke-width="1.3"/>
<ellipse cx="603.0" cy="584.5" rx="44.5" ry="27.5" transform="rotate(-63.0 603.0 584.5)" stroke-width="1.4" fill="none"/>
<path d="M602.1 611.6 L601.8 611.7 L601.4 611.8 L601.0 611.8 L600.6 611.9 L600.2 611.9 L599.8 612.0 L599.5 612.0 L599.1 612.0 L598.7 612.0 L598.3 612.0 L598.0 612.0 L597.6 612.0 L597.2 612.0 L596.9 612.0 L596.5 611.9 L596.1 611.9 L595.8 611.8 L595.4 611.8 L595.1 611.7 L594.7 611.6 L594.4 611.5 L594.0 611.4 L593.7 611.3 L593.4 611.2 L593.0 611.1 L592.7 611.0 L592.4 610.8 L592.1 610.7 L591.7 610.5 L591.4 610.4 L591.1 610.2 L590.8 610.0 L590.5 609.9 L590.2 609.7 L589.9 609.5 L589.6 609.3 L589.4 609.1 L589.1 608.9 L588.8 608.6 L588.5 608.4 L588.3 608.2 L588.0 607.9 L587.8 607.7 L587.5 607.4 L587.3 607.2 L587.1 606.9 L586.8 606.6 L586.6 606.3 L586.4 606.0 L586.2 605.7 L586.0 605.4 L585.8 605.1 L585.6 604.8 L585.4 604.5 L585.2 604.2 L585.0 603.8 L584.8 603.5 L584.7 603.2 L584.5 602.8 L584.4 602.4 L584.2 602.1 L584.1 601.7 L584.0 601.4 L583.8 601.0 L583.7 600.6 L583.6 600.2 L583.5 599.8 L583.4 599.4 L583.3 599.0 L583.2 598.6 L583.1 598.2 L583.0 597.8 L583.0 597.4 L582.9 597.0 L582.9 596.6 L582.8 596.2 L582.8 595.7 L582.7 595.3 L582.7 594.9 L582.7 594.4 L582.7 594.0 L582.7 593.6 L582.7 593.1 L582.7 592.7 L582.7 592.2 L582.7 591.8 L582.7 591.3 L582.8 590.9 L582.8 590.4 L582.9 590.0 L582.9 589.5 L583.0 589.1 L583.1 588.6 L583.1 588.1 L583.2 587.7 L583.3 587.2 L583.4 586.8 L583.5 586.3 L583.6 585.8 L583.7 585.4 L583.8 584.9 L584.0 584.4 L584.1 584.0 L584.2 583.5 L584.4 583.1 L584.5 582.6 L584.7 582.1 L584.9 581.7 L585.0 581.2 L585.2 580.8 L585.4 580.3 L585.6 579.9 L585.8 579.4 L586.0 579.0 L586.2 578.5 L586.4 578.1 L586.6 577.6 L586.9 577.2 L587.1 576.7 L587.3 576.3 L587.6 575.9 L587.8 575.4 L588.1 575.0 L588.3 574.6 L588.6 574.2 L588.9 573.8 L589.1 573.3 L589.4 572.9 L589.7 572.5 L590.0 572.1 L590.3 571.7 L590.6 571.3 L590.9 570.9 L591.2 570.6 L591.5 570.2 L591.8 569.8 L592.1 569.4 L592.4 569.1 L592.7 568.7 L593.1 568.3 L593.4 568.0 L593.7 567.7 L594.1 567.3 L594.4 567.0 L594.8 566.6 L595.1 566.3 L595.5 566.0 L595.8 565.7 L596.2 565.4 L596.5 565.1 L596.9 564.8 L597.3 564.5 L597.6 564.2 L598.0 564.0 L598.4 563.7 L598.8 563.4 L599.1 563.2 L599.5 562.9 L599.9 562.7 L600.3 562.5 L600.7 562.2 L601.0 562.0 L601.4 561.8 L601.8 561.6 L602.2 561.4 L602.6 561.2 L603.0 561.0 L603.4 560.9 L603.8 560.7 L604.2 560.5 L604.5 560.4 L604.9 560.2 L605.3 560.1 L605.7 560.0 L606.1 559.8 L606.5 559.7 L606.9 559.6 L607.3 559.5 L607.7 559.4 L608.1 559.4 L608.4 559.3 L608.8 559.2 L609.2 559.2 L609.6 559.1 L610.0 559.1 L610.4 559.0 L610.7 559.0 L611.1 559.0 L611.5 559.0 L611.9 559.0 L612.2 559.0 L612.6 559.0 L613.0 559.0 L613.3 559.0 L613.7 559.1 L614.1 559.1 L614.4 559.2 L614.8 559.2 L615.1 559.3 L615.5 559.4 L615.8 559.5 L616.2 559.6 L616.5 559.7 L616.8 559.8 L617.2 559.9 L617.5 560.0 L617.8 560.2 L618.1 560.3 L618.5 560.5 L618.8 560.6 L619.1 560.8 L619.4 561.0 L619.7 561.1 L620.0 561.3 L620.3 561.5 L620.6 561.7 L620.8 561.9 L621.1 562.1 L621.4 562.4 L621.7 562.6 L621.9 562.8 L622.2 563.1 L622.4 563.3 L622.7 563.6 L622.9 563.8 L623.1 564.1 L623.4 564.4 L623.6 564.7 L623.8 565.0 L624.0 565.3 L624.2 565.6 L624.4 565.9 L624.6 566.2 L624.8 566.5 L625.0 566.8 L625.2 567.2 L625.4 567.5 L625.5 567.8 L625.7 568.2 L625.8 568.6 L626.0 568.9 L626.1 569.3 L626.2 569.6 L626.4 570.0 L626.5 570.4 L626.6 570.8 L626.7 571.2 L626.8 571.6 L626.9 572.0 L627.0 572.4 L627.1 572.8 L627.2 573.2" stroke-width="1.5"/>
<path d="M601.1 611.2 L600.8 611.3 L600.5 611.3 L600.2 611.3 L599.9 611.3 L599.6 611.4 L599.3 611.4 L599.0 611.4 L598.7 611.3 L598.4 611.3 L598.1 611.3 L597.8 611.3 L597.5 611.2 L597.2 611.2 L596.9 611.1 L596.6 611.1 L596.3 611.0 L596.1 610.9 L595.8 610.8 L595.5 610.7 L595.3 610.6 L595.0 610.5 L594.7 610.4 L594.5 610.3 L594.2 610.2 L594.0 610.0 L593.7 609.9 L593.5 609.7 L593.3 609.6 L593.0 609.4 L592.8 609.3 L592.6 609.1 L592.4 608.9 L592.1 608.7 L591.9 608.5 L591.7 608.3 L591.5 608.1 L591.3 607.9 L591.1 607.7 L590.9 607.4 L590.7 607.2 L590.6 607.0 L590.4 606.7 L590.2 606.4 L590.1 606.2 L589.9 605.9 L589.7 605.7 L589.6 605.4 L589.5 605.1 L589.3 604.8 L589.2 604.5 L589.1 604.2 L588.9 603.9 L588.8 603.6 L588.7 603.3 L588.6 603.0 L588.5 602.6 L588.4 602.3 L588.3 602.0 L588.2 601.6 L588.1 601.3 L588.1 600.9 L588.0 600.6 L587.9 600.2 L587.9 599.9 L587.8 599.5 L587.8 599.1 L587.7 598.8 L587.7 598.4 L587.7 598.0 L587.7 597.6 L587.6 597.2 L587.6 596.8 L587.6 596.5 L587.6 596.1 L587.6 595.7 L587.6 595.3 L587.7 594.9 L587.7 594.4 L587.7 594.0 L587.7 593.6 L587.8 593.2 L587.8 592.8 L587.9 592.4 L587.9 592.0 L588.0 591.5 L588.1 591.1 L588.1 590.7 L588.2 590.3 L588.3 589.9 L588.4 589.4 L588.5 589.0 L588.6 588.6 L588.7 588.1 L588.8 587.7 L588.9 587.3 L589.1 586.9 L589.2 586.4 L589.3 586.0 L589.5 585.6 L589.6 585.1 L589.8 584.7 L589.9 584.3 L590.1 583.9 L590.2 583.4 L590.4 583.0 L590.6 582.6 L590.8 582.2 L591.0 581.8 L591.1 581.3 L591.3 580.9 L591.5 580.5 L591.7 580.1 L591.9 579.7 L592.2 579.3 L592.4 578.9 L592.6 578.5 L592.8 578.1 L593.0 577.7 L593.3 577.3 L593.5 576.9 L593.8 576.5 L594.0 576.1 L594.3 575.7 L594.5 575.3 L594.8 574.9 L595.0 574.6 L595.3 574.2 L595.6 573.8 L595.8 573.5 L596.1 573.1 L596.4 572.8 L596.7 572.4 L596.9 572.1 L597.2 571.7 L597.5 571.4 L597.8 571.1 L598.1 570.7 L598.4 570.4 L598.7 570.1 L599.0 569.8 L599.3 569.5 L599.6 569.2 L599.9 568.9 L600.2 568.6 L600.5 568.3 L600.8 568.0 L601.2 567.8 L601.5 567.5 L601.8 567.2 L602.1 567.0 L602.4 566.7 L602.8 566.5 L603.1 566.2 L603.4 566.0 L603.7 565.8 L604.1 565.6 L604.4 565.4 L604.7 565.1 L605.0 564.9 L605.4 564.8 L605.7 564.6 L606.0 564.4 L606.4 564.2 L606.7 564.1 L607.0 563.9 L607.3 563.7 L607.7 563.6 L608.0 563.5 L608.3 563.3 L608.7 563.2 L609.0 563.1 L609.3 563.0 L609.6 562.9 L610.0 562.8 L610.3 562.7 L610.6 562.6 L610.9 562.6 L611.2 562.5 L611.6 562.4 L611.9 562.4 L612.2 562.3 L612.5 562.3 L612.8 562.3 L613.1 562.3 L613.4 562.2 L613.7 562.2 L614.0 562.2 L614.3 562.3 L614.6 562.3 L614.9 562.3 L615.2 562.3 L615.5 562.4 L615.8 562.4 L616.1 562.5 L616.4 562.5 L616.7 562.6 L616.9 562.7 L617.2 562.8 L617.5 562.9 L617.7 563.0 L618.0 563.1 L618.3 563.2 L618.5 563.3 L618.8 563.4 L619.0 563.6 L619.3 563.7 L619.5 563.9 L619.7 564.0 L620.0 564.2 L620.2 564.3 L620.4 564.5 L620.6 564.7 L620.9 564.9 L621.1 565.1 L621.3 565.3 L621.5 565.5 L621.7 565.7 L621.9 565.9 L622.1 566.2 L622.3 566.4 L622.4 566.6 L622.6 566.9 L622.8 567.2 L622.9 567.4 L623.1 567.7 L623.3 567.9 L623.4 568.2 L623.5 568.5 L623.7 568.8 L623.8 569.1 L623.9 569.4 L624.1 569.7 L624.2 570.0 L624.3 570.3 L624.4 570.6 L624.5 571.0 L624.6 571.3" stroke-width="1.3"/>
<path d="M600.5 610.7 L600.3 610.7 L600.0 610.6 L599.7 610.6 L599.5 610.5 L599.2 610.5 L599.0 610.4 L598.7 610.3 L598.4 610.2 L598.2 610.2 L597.9 610.1 L597.7 610.0 L597.5 609.9 L597.2 609.8 L597.0 609.6 L596.8 609.5 L596.5 609.4 L596.3 609.2 L596.1 609.1 L595.9 608.9 L595.7 608.8 L595.5 608.6 L595.3 608.4 L595.1 608.3 L594.9 608.1 L594.7 607.9 L594.5 607.7 L594.3 607.5 L594.1 607.3 L594.0 607.1 L593.8 606.9 L593.6 606.6 L593.5 606.4 L593.3 606.2 L593.2 605.9 L593.0 605.7 L592.9 605.4 L592.7 605.2 L592.6 604.9 L592.5 604.6 L592.4 604.4 L592.2 604.1 L592.1 603.8 L592.0 603.5 L591.9 603.2 L591.8 602.9 L591.7 602.6 L591.6 602.3 L591.6 602.0 L591.5 601.7 L591.4 601.4 L591.3 601.0 L591.3 600.7 L591.2 600.4 L591.2 600.0 L591.1 599.7 L591.1 599.4 L591.1 599.0 L591.0 598.7 L591.0 598.3 L591.0 598.0 L591.0 597.6 L591.0 597.2 L591.0 596.9 L591.0 596.5 L591.0 596.1 L591.0 595.8 L591.0 595.4 L591.0 595.0 L591.1 594.6 L591.1 594.3 L591.1 593.9 L591.2 593.5 L591.2 593.1 L591.3 592.7 L591.3 592.3 L591.4 591.9 L591.5 591.5 L591.6 591.2 L591.6 590.8 L591.7 590.4 L591.8 590.0 L591.9 589.6 L592.0 589.2 L592.1 588.8 L592.2 588.4 L592.3 588.0 L592.5 587.6 L592.6 587.2 L592.7 586.8 L592.9 586.4 L593.0 586.0 L593.2 585.6 L593.3 585.2 L593.5 584.8 L593.6 584.4 L593.8 584.0 L594.0 583.6 L594.1 583.3 L594.3 582.9 L594.5 582.5 L594.7 582.1 L594.9 581.7 L595.1 581.3 L595.3 581.0 L595.5 580.6 L595.7 580.2 L595.9 579.8 L596.1 579.5 L596.3 579.1 L596.5 578.7 L596.8 578.4 L597.0 578.0 L597.2 577.7 L597.5 577.3 L597.7 577.0 L597.9 576.6 L598.2 576.3 L598.4 575.9 L598.7 575.6 L598.9 575.3 L599.2 574.9 L599.5 574.6 L599.7 574.3 L600.0 574.0 L600.3 573.7 L600.5 573.4 L600.8 573.1 L601.1 572.8 L601.4 572.5 L601.6 572.2 L601.9 571.9 L602.2 571.6 L602.5 571.4 L602.8 571.1 L603.1 570.8 L603.4 570.6 L603.7 570.3 L604.0 570.1 L604.2 569.8 L604.5 569.6 L604.8 569.4 L605.1 569.1 L605.4 568.9 L605.7 568.7 L606.1 568.5 L606.4 568.3 L606.7 568.1 L607.0 567.9 L607.3 567.7 L607.6 567.5 L607.9 567.4 L608.2 567.2 L608.5 567.1 L608.8 566.9 L609.1 566.8 L609.4 566.6 L609.7 566.5 L610.0 566.4 L610.3 566.2 L610.6 566.1 L610.9 566.0 L611.2 565.9 L611.5 565.8 L611.8 565.7 L612.1 565.7 L612.4 565.6 L612.7 565.5 L613.0 565.5 L613.3 565.4 L613.6 565.4 L613.9 565.3 L614.2 565.3 L614.5 565.3 L614.8 565.3 L615.1 565.3 L615.3 565.3 L615.6 565.3 L615.9 565.3 L616.2 565.3 L616.5 565.3 L616.7 565.3 L617.0 565.4 L617.3 565.4 L617.5 565.5 L617.8 565.5 L618.0 565.6 L618.3 565.7 L618.6 565.8 L618.8 565.8 L619.1 565.9 L619.3 566.0 L619.5 566.1 L619.8 566.2 L620.0 566.4 L620.2 566.5 L620.5 566.6 L620.7 566.8 L620.9 566.9 L621.1 567.1 L621.3 567.2 L621.5 567.4 L621.7 567.6 L621.9 567.7 L622.1 567.9 L622.3 568.1 L622.5 568.3 L622.7 568.5 L622.9 568.7 L623.0 568.9 L623.2 569.1 L623.4 569.4 L623.5 569.6 L623.7 569.8 L623.8 570.1 L624.0 570.3 L624.1 570.6 L624.3 570.8 L624.4 571.1 L624.5 571.4" stroke-width="1.2"/>
<ellipse cx="613.3" cy="591.5" rx="23.0" ry="14.3" transform="rotate(-59.1 613.3 591.5)" stroke-width="1.8" fill="none"/>
<ellipse cx="614.4" cy="590.8" rx="19.2" ry="11.9" transform="rotate(-64.0 614.4 590.8)" stroke-width="1.4" fill="none"/>
<path d="M621.0 588.4 L621.0 588.6 L620.9 588.8 L620.9 589.0 L620.8 589.2 L620.7 589.5 L620.7 589.7 L620.6 589.9 L620.5 590.1 L620.4 590.3 L620.4 590.5 L620.3 590.7 L620.2 590.9 L620.1 591.1 L620.0 591.3 L619.9 591.5 L619.9 591.7 L619.8 591.9 L619.7 592.1 L619.6 592.3 L619.5 592.5 L619.4 592.7 L619.3 592.9 L619.2 593.1 L619.1 593.3 L619.0 593.5 L618.9 593.7 L618.8 593.9 L618.6 594.1 L618.5 594.3 L618.4 594.5 L618.3 594.7 L618.2 594.9 L618.1 595.1 L618.0 595.3 L617.8 595.5 L617.7 595.7 L617.6 595.8 L617.5 596.0 L617.3 596.2 L617.2 596.4 L617.1 596.6 L616.9 596.8 L616.8 596.9 L616.7 597.1 L616.6 597.3 L616.4 597.4 L616.3 597.6 L616.1 597.8 L616.0 597.9 L615.9 598.1 L615.7 598.3 L615.6 598.4 L615.4 598.6 L615.3 598.7 L615.2 598.9 L615.0 599.0 L614.9 599.2 L614.7 599.3 L614.6 599.5 L614.4 599.6 L614.3 599.8 L614.1 599.9 L614.0 600.0 L613.8 600.2 L613.7 600.3 L613.5 600.4 L613.4 600.6 L613.2 600.7 L613.1 600.8 L612.9 600.9 L612.8 601.0 L612.6 601.2 L612.5 601.3 L612.3 601.4 L612.1 601.5 L612.0 601.6 L611.8 601.7 L611.7 601.8 L611.5 601.9 L611.4 602.0 L611.2 602.1 L611.1 602.1 L610.9 602.2 L610.8 602.3 L610.6 602.4 L610.5 602.5 L610.3 602.5 L610.1 602.6 L610.0 602.7 L609.8 602.7 L609.7 602.8 L609.5 602.8 L609.4 602.9 L609.2 602.9 L609.1 603.0 L608.9 603.0 L608.8 603.1 L608.6 603.1 L608.5 603.1 L608.3 603.2 L608.2 603.2 L608.0 603.2 L607.9 603.3 L607.8 603.3 L607.6 603.3 L607.5 603.3 L607.3 603.3 L607.2 603.3 L607.1 603.3 L606.9 603.3 L606.8 603.3 L606.6 603.3 L606.5 603.3 L606.4 603.3 L606.2 603.3 L606.1 603.3 L606.0 603.3 L605.8 603.2 L605.7 603.2 L605.6 603.2 L605.5 603.1 L605.3 603.1 L605.2 603.1 L605.1 603.0 L605.0 603.0 L604.9 602.9 L604.7 602.9 L604.6 602.8 L604.5 602.8 L604.4 602.7 L604.3 602.6 L604.2 602.6 L604.1 602.5 L604.0 602.4 L603.9 602.4 L603.8 602.3 L603.7 602.2 L603.6 602.1 L603.5 602.0 L603.4 601.9 L603.3 601.9 L603.2 601.8 L603.1 601.7 L603.0 601.6 L602.9 601.5 L602.8 601.4 L602.7 601.2 L602.7 601.1 L602.6 601.0 L602.5 600.9 L602.4 600.8 L602.4 600.7 L602.3 600.5 L602.2 600.4 L602.2 600.3 L602.1 600.2 L602.0 600.0 L602.0 599.9 L601.9 599.8 L601.9 599.6 L601.8 599.5 L601.8 599.3 L601.7 599.2 L601.7 599.0 L601.6 598.9 L601.6 598.7 L601.5 598.6 L601.5 598.4 L601.5 598.2 L601.4 598.1 L601.4 597.9 L601.4 597.8 L601.3 597.6 L601.3 597.4 L601.3 597.3 L601.3 597.1 L601.3 596.9 L601.2 596.7 L601.2 596.5 L601.2 596.4 L601.2 596.2 L601.2 596.0 L601.2 595.8 L601.2 595.6 L601.2 595.5 L601.2 595.3 L601.2 595.1 L601.2 594.9 L601.2 594.7 L601.3 594.5 L601.3 594.3 L601.3 594.1 L601.3 593.9 L601.3 593.7 L601.4 593.5 L601.4 593.3 L601.4 593.1 L601.4 592.9 L601.5 592.7 L601.5 592.5" stroke-width="1.3"/>
<ellipse cx="600.3" cy="554.4" rx="4.2" ry="2.8" transform="rotate(-62.0 600.3 554.4)" stroke-width="1.3" fill="none"/>
<ellipse cx="625.3" cy="560.2" rx="4.2" ry="2.8" transform="rotate(-62.0 625.3 560.2)" stroke-width="1.3" fill="none"/>
<ellipse cx="576.6" cy="588.9" rx="4.2" ry="2.8" transform="rotate(-62.0 576.6 588.9)" stroke-width="1.3" fill="none"/>
<ellipse cx="585.2" cy="616.1" rx="4.2" ry="2.8" transform="rotate(-62.0 585.2 616.1)" stroke-width="1.3" fill="none"/>
<path d="M 530.1 452.1 L 554.3 465.5 C 555.6 468.0 553.9 471.8 550.6 471.8 L 526.7 460.9" stroke-width="1.8" fill="#fff" />
<ellipse cx="539.3" cy="460.1" rx="2.0" ry="4.3" transform="rotate(30 539.3 460.1)" stroke-width="1.7" fill="none" />
<ellipse cx="543.3" cy="462.4" rx="2.0" ry="4.3" transform="rotate(30 543.3 462.4)" stroke-width="1.7" fill="none" />
<ellipse cx="547.3" cy="464.8" rx="2.0" ry="4.3" transform="rotate(30 547.3 464.8)" stroke-width="1.7" fill="none" />
<ellipse cx="551.3" cy="467.1" rx="2.0" ry="4.3" transform="rotate(30 551.3 467.1)" stroke-width="1.7" fill="none" />
<ellipse cx="532.2" cy="456.6" rx="3.8" ry="4.8" transform="rotate(30 532.2 456.6)" stroke-width="1.7" fill="#fff" />
<ellipse cx="523.6" cy="452.3" rx="8.4" ry="10.5" transform="rotate(25 523.6 452.3)" stroke-width="1.9" fill="#fff" />
<ellipse cx="525.1" cy="453.0" rx="6.5" ry="8.8" transform="rotate(25 525.1 453.0)" stroke-width="1.4" fill="none" />
<ellipse cx="526.1" cy="454.9" rx="3.8" ry="5.4" transform="rotate(25 526.1 454.9)" stroke-width="3.0" fill="none" />
<ellipse cx="526.1" cy="454.9" rx="1.3" ry="2.1" transform="rotate(25 526.1 454.9)" stroke-width="1.3" fill="none" />
<path d="M556.0 470.0 L564.6 475.0 L564.6 535.0 L581.6 544.4" stroke-width="1.4" fill="none" stroke-dasharray="6 4"/>
<path d="M416.5 556.6 L438.7 567.2" stroke-width="1.8" fill="none" />
<path d="M414.7 563.6 L435.8 574.0" stroke-width="1.8" fill="none" />
<ellipse cx="417.9" cy="560.4" rx="2.6" ry="3.9" transform="rotate(30 417.9 560.4)" stroke-width="1.9" fill="none" />
<ellipse cx="421.6" cy="562.3" rx="2.6" ry="3.9" transform="rotate(30 421.6 562.3)" stroke-width="1.9" fill="none" />
<ellipse cx="425.4" cy="564.3" rx="2.6" ry="3.9" transform="rotate(30 425.4 564.3)" stroke-width="1.9" fill="none" />
<ellipse cx="429.1" cy="566.2" rx="2.6" ry="3.9" transform="rotate(30 429.1 566.2)" stroke-width="1.9" fill="none" />
<ellipse cx="433.3" cy="569.5" rx="3.4" ry="4.2" transform="rotate(30 433.3 569.5)" stroke-width="1.8" fill="#fff" />
<path d="M 435.5 572.9 L 434.4 578.3 L 440.5 583.3 L 444.1 584.8 L 450.9 581.5 L 453.7 574.4 L 451.6 569.4 L 448.0 567.2 L 443.7 565.8 L 440.1 566.8 L 437.6 569.0 Z" stroke-width="2.2" fill="#fff" />
<path d="M 435.8 573.7 L 440.8 576.5 L 440.8 583.3 M 440.8 576.5 L 443.7 572.9 L 448.7 568.8 M 438.3 568.8 L 443.7 571.5 L 448.7 568.8" stroke-width="1.8" fill="none" />
<path d="M292.4 386.5 C294.0 383.6 298.1 375.0 302.2 369.2 C306.4 363.5 311.5 357.5 317.1 351.9 C322.6 346.4 329.4 340.6 335.6 335.8 C341.8 331.1 346.8 327.4 354.2 323.5 C361.6 319.6 375.7 314.2 380.0 312.4" stroke-width="1.5" fill="none" />
<path d="M295.5 385.3 C297.0 383.0 300.5 377.0 304.7 371.7 C308.9 366.3 315.2 358.7 320.8 353.2 C326.4 347.6 332.1 342.9 338.1 338.3 C344.1 333.8 349.7 329.8 356.6 326.0 C363.6 322.1 376.1 317.2 380.0 315.5" stroke-width="1.2" fill="none" />
<path d="M370.0 318.5 C373.1 317.4 381.3 312.9 388.5 311.7 C395.8 310.6 407.1 311.0 413.3 311.7 C419.4 312.5 421.5 313.7 425.6 316.1 C429.7 318.4 434.5 322.2 438.0 326.0 C441.5 329.7 444.0 333.4 446.6 338.3 C449.3 343.3 452.4 349.6 454.1 355.6 C455.7 361.6 456.2 367.0 456.5 374.2 C456.8 381.4 456.7 390.6 455.9 398.9 C455.1 407.1 453.3 416.4 451.6 423.6 C449.8 430.8 446.8 437.7 445.4 442.2 C444.0 446.6 443.3 448.7 442.9 450.1" stroke-width="1.5" fill="none" />
<path d="M370.0 319.8 C373.1 318.7 382.4 314.3 388.5 313.1 C394.7 311.9 404.0 312.7 407.1 312.6" stroke-width="1.2" fill="none" />
<path d="M455.2 400.0 C454.6 404.1 453.1 416.9 451.5 424.7 C449.8 432.6 447.8 440.4 445.3 447.0 C442.8 453.6 439.4 458.5 436.6 464.3 C433.9 470.0 429.9 478.7 428.6 481.6" stroke-width="1.5" fill="none" />
<path d="M428.6 481.6 L424.3 480.3 L418.1 487.8 L416.9 491.5 L423.0 492.1 L427.4 487.8 L428.6 481.6" stroke-width="1.3" fill="none" />
<path d="M417.6 488.4 C417.4 489.3 417.2 490.5 416.2 493.8 C415.2 497.0 413.5 502.1 411.7 508.1 C409.9 514.1 407.5 523.3 405.4 529.6 C403.4 535.9 402.2 541.0 399.2 545.7 C396.2 550.5 392.5 554.4 387.5 558.3 C382.6 562.2 375.6 566.0 369.6 569.0 C363.6 572.0 357.7 574.6 351.7 576.2 C345.7 577.8 339.7 578.9 333.8 578.9 C327.8 578.9 321.8 578.1 315.8 576.2 C309.9 574.3 303.1 570.1 297.9 567.2 C292.7 564.4 286.7 560.5 284.5 559.2" stroke-width="1.5" fill="none" />
<path d="M292.4 386.5 L291.7 393.9 L292.4 403.2" stroke-width="1.5" fill="none" />
<path d="M292.4 403.2 C293.2 403.0 295.5 402.6 297.3 402.0 C299.2 401.4 301.4 399.6 303.5 399.5 C305.5 399.4 307.6 400.0 309.7 401.4 C311.7 402.7 313.8 405.7 315.8 407.5 C317.9 409.4 320.4 411.6 322.0 412.5 C323.7 413.4 324.3 413.7 325.7 413.1 C327.2 412.5 329.6 410.5 330.7 408.8 C331.7 407.0 332.0 404.9 331.9 402.6 C331.8 400.3 330.1 397.0 330.1 395.2 C330.1 393.3 330.0 393.1 331.9 391.5 C333.9 389.8 337.1 388.4 341.8 385.3 C346.5 382.2 354.0 376.6 360.3 372.9 C366.7 369.2 376.7 364.7 380.0 363.0" stroke-width="1.5" fill="none" />
<ellipse cx="328.2" cy="406.3" rx="3.5" ry="4.7" transform="rotate(20 328.2 406.3)" stroke-width="1.4" fill="none" />
<ellipse cx="328.2" cy="406.6" rx="1.2" ry="2.0" transform="rotate(20 328.2 406.6)" stroke-width="1.2" fill="none" />
<path d="M315.2 400.1 C318.6 396.2 329.1 383.0 335.6 376.6 C342.1 370.3 349.0 365.5 354.2 361.8 C359.3 358.1 362.2 356.2 366.5 354.4 C370.8 352.5 377.8 351.3 380.0 350.7" stroke-width="1.3" fill="none" />
<path d="M318.3 405.7 C320.6 403.3 326.8 396.3 331.9 391.5 C337.1 386.6 343.5 381.0 349.2 376.6 C355.0 372.3 361.4 368.4 366.5 365.5 C371.7 362.6 377.8 360.4 380.0 359.3" stroke-width="1.3" fill="none" />
<path d="M370.0 353.2 C373.7 352.3 386.5 348.8 392.2 348.2 C398.0 347.6 400.5 348.2 404.6 349.4 C408.7 350.7 413.5 352.9 417.0 355.6 C420.5 358.3 423.4 362.4 425.6 365.5 C427.9 368.6 429.3 371.3 430.6 374.2 C431.8 377.0 432.6 381.4 433.0 382.8" stroke-width="1.5" fill="none" />
<path d="M433.0 382.8 L441.7 385.3 L441.7 417.4 L431.8 427.3" stroke-width="1.5" fill="none" />
<path d="M431.8 427.3 C430.8 431.1 426.7 446.3 425.6 450.1" stroke-width="1.5" fill="none" />
<path d="M392.2 348.8 C394.7 349.3 403.0 350.0 407.1 351.9 C411.2 353.9 414.1 357.1 417.0 360.6 C419.9 364.1 422.6 368.6 424.4 372.9 C426.1 377.3 427.0 384.3 427.5 386.5" stroke-width="1.2" fill="none" />
<path d="M370.0 360.6 C372.7 360.4 380.9 358.9 386.1 359.3 C391.2 359.7 396.6 361.0 400.9 363.0 C405.2 365.1 409.1 368.6 412.0 371.7 C414.9 374.8 416.8 378.3 418.2 381.6 C419.6 384.9 420.3 389.8 420.7 391.5" stroke-width="1.5" fill="none" />
<path d="M420.7 391.5 L426.9 390.9 L426.9 416.2 L419.4 421.8" stroke-width="1.5" fill="none" />
<path d="M386.1 360.6 L387.3 372.9 L393.5 375.4" stroke-width="1.5" fill="none" />
<path d="M393.5 375.4 C395.1 376.8 400.7 380.1 403.4 384.1 C406.1 388.0 408.5 396.4 409.6 398.9" stroke-width="1.5" fill="none" />
<path d="M409.6 398.9 L420.7 398.9 L417.0 406.3" stroke-width="1.5" fill="none" />
<path d="M386.1 360.6 L370.0 369.2" stroke-width="1.5" fill="none" />
<ellipse cx="420.1" cy="409.4" rx="4.0" ry="5.4" transform="rotate(25 420.1 409.4)" stroke-width="1.4" fill="none" />
<ellipse cx="420.4" cy="409.0" rx="1.7" ry="2.7" transform="rotate(25 420.4 409.0)" stroke-width="1.2" fill="none" />
<path d="M430.6 416.8 L438.0 418.0" stroke-width="1.3" fill="none" />
<path d="M441.6 400.0 C441.4 403.3 442.0 415.0 440.3 419.8 C438.7 424.5 433.5 424.5 431.7 428.4 C429.8 432.3 430.7 438.1 429.2 443.3 C427.8 448.4 425.2 454.8 423.0 459.3 C420.9 463.9 417.4 468.6 416.2 470.5" stroke-width="1.3" fill="none" />
<path d="M424.3 424.7 C423.7 427.2 422.4 434.2 420.6 439.6 C418.7 444.9 415.4 451.7 413.2 456.9 C410.9 462.0 410.1 465.1 407.0 470.5 C403.9 475.8 399.1 483.2 394.6 489.0 C390.1 494.8 385.5 499.7 379.8 505.1 C374.0 510.4 363.3 518.5 360.0 521.1" stroke-width="1.5" fill="none" />
<path d="M426.7 400.0 C426.6 402.7 427.6 412.4 426.1 416.1 C424.7 419.8 421.1 420.2 418.1 422.2 C415.1 424.3 410.3 425.5 408.2 428.4 C406.1 431.3 407.6 434.4 405.7 439.6 C403.9 444.7 400.2 452.9 397.1 459.3 C394.0 465.7 390.1 472.7 387.2 477.9 C384.3 483.0 381.2 485.7 379.8 490.2 C378.3 494.8 378.4 499.9 378.5 505.1 C378.6 510.2 379.4 518.4 380.4 521.1 C381.4 523.9 384.0 521.7 384.7 521.8" stroke-width="1.5" fill="none" />
<path d="M410.7 469.2 C411.7 470.3 415.9 472.5 416.9 475.4 C417.8 478.3 416.0 484.3 416.2 486.5 C416.4 488.8 417.8 488.6 418.1 489.0" stroke-width="1.3" fill="none" />
<path d="M413.2 477.9 C410.9 481.0 404.3 490.2 399.6 496.4 C394.8 502.6 387.2 511.9 384.7 515.0" stroke-width="1.3" fill="none" />
<path d="M408.2 510.0 C404.3 514.3 388.6 531.6 384.7 536.0" stroke-width="1.3" fill="none" />
<path d="M 320.2 517.2 L 331.6 505.7 C 334.0 504.3 337.4 505.7 337.4 509.1 L 335.9 510.5" stroke-width="1.5" fill="none" />
<path d="M 330.2 509.1 C 328.3 511.5 328.8 514.3 332.1 515.3" stroke-width="1.4" fill="none" />
<path d="M329.7 525.8 C330.0 527.2 332.7 527.0 331.1 534.4 C329.6 541.8 322.0 564.3 320.2 570.3" stroke-width="1.5" fill="none" />
<path d="M320.2 569.8 L327.8 568.1" stroke-width="1.6" fill="none" />
<path d="M289.6 564.2 C291.5 565.0 296.4 568.2 301.0 569.0 C305.7 569.8 314.6 569.0 317.3 569.0" stroke-width="1.7" fill="none" />
<path d="M284.5 559.2 C285.8 558.4 288.8 555.9 292.5 554.7 C296.3 553.5 303.4 553.2 306.9 552.0 C310.3 550.8 311.7 550.7 313.2 547.5 C314.6 544.4 314.9 538.0 315.8 533.2 C316.7 528.4 316.7 522.4 318.5 518.9 C320.3 515.3 324.5 513.8 326.6 511.7 C328.7 509.6 330.3 507.2 331.1 506.3" stroke-width="1.5" fill="none" />
<path d="M321.2 528.7 L329.3 528.7" stroke-width="1.3" fill="none" />
<path d="M332.0 520.6 C332.9 521.2 334.4 523.3 337.3 524.2 C340.3 525.1 347.8 525.7 349.9 526.0" stroke-width="1.3" fill="none" />
<path d="M330.2 533.2 C333.5 532.3 346.6 528.7 349.9 527.8" stroke-width="1.3" fill="none" />
<path d="M366.0 533.2 C363.6 533.8 356.2 535.0 351.7 536.8 C347.2 538.6 342.3 541.0 339.1 543.9 C336.0 546.9 334.1 551.1 332.9 554.7 C331.7 558.3 330.9 562.9 332.0 565.4 C333.0 568.0 334.4 569.9 339.1 569.9 C343.9 569.9 353.2 568.0 360.6 565.4 C368.1 562.9 376.8 560.1 383.9 554.7 C391.1 549.3 400.4 536.8 403.7 533.2" stroke-width="1.5" fill="none" />
<ellipse cx="178.5" cy="259.7" rx="25.0" ry="14.6" transform="rotate(-4 178.5 259.7)" stroke-width="1.5" fill="none" />
<ellipse cx="181.7" cy="259.4" rx="15.7" ry="9.9" transform="rotate(-4 181.7 259.4)" stroke-width="1.5" fill="none" />
<path d="M153.5 303.0 C153.9 303.7 154.7 306.2 156.0 307.3 C157.2 308.4 160.1 309.4 160.9 309.8" stroke-width="1.5" fill="none" />
<path d="M159.7 270.8 L160.7 309.2" stroke-width="1.5" fill="none" />
<path d="M203.2 257.0 L204.4 292.1" stroke-width="1.5" fill="none" />
<path d="M162.3 254.3 L162.6 263.7" stroke-width="3.0" fill="none" />
<path d="M165.5 251.5 L165.8 264.4" stroke-width="1.5" fill="none" />
<path d="M153.7 257.2 C153.9 256.7 154.4 255.3 155.1 254.3 C155.8 253.4 157.0 251.8 158.0 251.5 C158.9 251.2 160.3 252.4 160.8 252.5" stroke-width="1.6" fill="none" />
<path d="M152.9 258.3 C152.1 258.6 149.7 259.2 147.9 260.1 C146.1 261.0 144.1 262.4 142.2 263.7 C140.3 264.9 137.7 266.3 136.5 267.6 C135.2 268.9 134.6 270.3 134.4 271.5 C134.3 272.8 135.2 274.5 135.4 275.1" stroke-width="1.7" fill="none" />
<path d="M142.2 266.9 L151.9 268.7" stroke-width="1.5" fill="none" />
<path d="M 138.6 274.4 C 140.0 271.5 143.6 271.5 144.7 274.4 C 145.4 277.3 144.3 279.4 142.9 280.1" stroke-width="1.6" fill="none" />
<path d="M135.0 279.4 L141.5 276.6" stroke-width="1.5" fill="none" />
<path d="M139.3 280.5 L152.9 294.5" stroke-width="1.6" fill="none" />
<path d="M153.1 261.5 L153.4 300.0" stroke-width="3.2" fill="none" />
<path d="M157.6 265.8 L159.4 290.2" stroke-width="1.5" fill="none" />
<path d="M162.4 275.5 C166.0 277.5 176.3 283.3 183.9 287.5 C191.5 291.7 201.4 296.8 207.8 300.6 C214.2 304.4 218.1 307.0 222.1 310.2 C226.1 313.4 225.4 315.4 231.7 319.7 C238.0 324.1 255.3 333.7 260.0 336.5" stroke-width="1.5" fill="none" />
<path d="M163.6 281.5 C167.0 283.7 176.9 290.5 183.9 294.6 C190.9 298.8 199.4 303.0 205.4 306.6 C211.4 310.2 216.2 313.6 219.7 316.2 C223.3 318.7 225.7 321.1 226.9 322.1" stroke-width="1.5" fill="none" />
<path d="M176.7 305.4 C179.9 306.6 190.3 310.6 195.8 312.6 C201.4 314.6 205.4 315.0 210.2 317.3 C215.0 319.7 222.1 325.3 224.5 326.9" stroke-width="1.5" fill="none" />
<path d="M161.2 310.2 C163.4 311.2 169.4 314.4 174.3 316.2 C179.3 317.9 186.7 318.7 191.1 320.9 C195.4 323.1 198.2 326.3 200.6 329.3 C203.0 332.3 204.6 337.3 205.4 338.9" stroke-width="1.5" fill="none" />
<path d="M175.5 293.5 L174.6 316.2" stroke-width="1.5" fill="none" />
<path d="M177.3 294.6 L177.3 316.2" stroke-width="1.5" fill="none" />
<path d="M192.3 306.6 L192.5 312.6" stroke-width="1.5" fill="none" />
<path d="M160.0 293.5 L175.5 300.6" stroke-width="1.5" fill="none" />
<path d="M181.5 275.5 C183.1 276.7 188.1 280.3 191.1 282.7 C194.1 285.1 198.0 288.7 199.4 289.9" stroke-width="1.3" fill="none" />
<path d="M181.5 275.5 L188.7 275.5" stroke-width="1.3" fill="none" />
<ellipse cx="193.5" cy="282.7" rx="3.6" ry="2.6" transform="rotate(0 193.5 282.7)" stroke-width="1.6" fill="none" />
<path d="M205.4 292.3 C206.8 292.5 210.8 292.1 213.8 293.5 C216.8 294.8 220.7 297.8 223.3 300.6 C225.9 303.4 228.1 307.0 229.3 310.2 C230.5 313.4 230.9 316.9 230.5 319.7 C230.1 322.5 228.7 324.9 226.9 326.9 C225.1 328.9 222.1 330.7 219.7 331.7 C217.3 332.7 213.8 332.7 212.6 332.9" stroke-width="1.5" fill="none" />
<path d="M198.0 251.5 C198.3 251.7 195.7 250.1 200.0 252.4 C204.3 254.7 216.9 260.9 223.9 265.5 C230.9 270.1 237.1 275.8 241.8 279.9 C246.5 284.0 248.9 286.3 252.2 290.0 C255.5 293.7 258.5 298.2 261.5 302.2 C264.5 306.1 268.0 310.6 270.1 313.7 C272.2 316.8 273.7 319.6 274.4 320.8" stroke-width="1.5" fill="none" />
<path d="M200.0 260.8 C204.0 263.2 216.6 270.2 223.9 275.1 C231.2 280.0 238.8 286.0 243.6 290.0 C248.4 294.0 249.9 295.9 252.9 299.3 C255.9 302.7 259.1 306.6 261.5 310.1 C263.9 313.6 265.8 316.8 267.2 320.1 C268.6 323.4 269.5 326.3 270.1 330.1 C270.7 333.9 271.0 339.9 270.8 343.0 C270.6 346.1 269.4 347.5 268.7 348.8 C268.0 350.1 266.9 350.5 266.5 350.9" stroke-width="1.5" fill="none" />
<path d="M274.4 320.1 C276.6 320.5 283.5 320.1 287.3 322.3 C291.1 324.4 295.7 331.2 297.3 333.0" stroke-width="1.5" fill="none" />
<path d="M276.6 326.6 C278.0 326.7 282.2 325.5 285.2 327.3 C288.1 329.1 292.9 335.6 294.5 337.3" stroke-width="1.5" fill="none" />
<path d="M276.6 324.4 L278.0 352.4" stroke-width="1.6" fill="none" />
<path d="M266.5 350.9 C267.7 350.9 271.5 350.6 273.7 350.9 C275.8 351.3 277.8 352.2 279.4 353.1 C281.1 353.9 283.0 355.5 283.7 355.9" stroke-width="1.5" fill="none" />
<path d="M285.9 357.4 C286.6 356.5 288.7 354.4 290.2 352.4 C291.6 350.3 293.5 347.2 294.5 345.2 C295.4 343.2 295.7 341.0 295.9 340.2" stroke-width="1.5" fill="none" />
<path d="M297.3 334.4 L297.3 370.0" stroke-width="2.0" fill="none" />
<path d="M276.2 320.3 C278.1 318.4 285.1 312.0 288.1 309.0 C291.1 306.0 291.5 303.8 294.1 302.4 C296.7 301.0 300.4 300.6 303.6 300.6 C306.8 300.6 310.9 301.4 313.2 302.4 C315.5 303.4 316.7 305.9 317.4 306.6" stroke-width="1.5" fill="none" />
<path d="M288.7 310.2 C289.2 311.2 290.0 314.5 291.7 316.2 C293.4 317.8 296.3 319.6 298.9 320.3 C301.4 321.0 305.8 320.3 307.2 320.3" stroke-width="1.3" fill="none" />
<ellipse cx="302.4" cy="307.2" rx="4.3" ry="2.3" transform="rotate(0 302.4 307.2)" stroke-width="1.4" fill="none" />
<path d="M317.4 306.6 L317.4 328.1 L308.4 332.9" stroke-width="1.5" fill="none" />
<path d="M307.0 317.3 L317.0 312.6" stroke-width="1.5" fill="none" />
<path d="M307.8 317.3 L308.4 331.7" stroke-width="2.0" fill="none" />
<path d="M297.7 332.9 L306.0 322.1" stroke-width="1.3" fill="none" />
<path d="M297.7 334.7 C299.3 334.8 305.2 334.2 307.2 335.3 C309.2 336.4 309.9 339.3 309.8 341.2 C309.7 343.2 308.6 345.6 306.6 347.2 C304.6 348.8 299.2 350.2 297.7 350.8" stroke-width="1.5" fill="none" />
<ellipse cx="305.1" cy="342.2" rx="2.6" ry="2.4" transform="rotate(0 305.1 342.2)" stroke-width="1.6" fill="none" />
<path d="M230.8 319.7 C233.9 321.7 243.3 327.9 249.9 331.7 C256.4 335.5 266.8 340.6 270.2 342.4" stroke-width="1.5" fill="none" />
<path d="M233.1 328.1 C236.1 329.7 245.1 334.5 251.1 337.7 C257.0 340.8 266.0 345.6 269.0 347.2" stroke-width="1.5" fill="none" />
<path d="M242.1 336.5 C242.8 338.1 245.0 343.4 246.3 346.0 C247.6 348.6 249.3 351.0 249.9 352.0" stroke-width="1.3" fill="none" />
<ellipse cx="252.9" cy="346.0" rx="3.6" ry="2.2" transform="rotate(0 252.9 346.0)" stroke-width="1.5" fill="none" />
<ellipse cx="245.3" cy="341.2" rx="2.2" ry="2.2" transform="rotate(0 245.3 341.2)" stroke-width="1.3" fill="none" />
<path d="M231.0 331.7 L231.0 360.0" stroke-width="1.5" fill="none" />
<path d="M220.0 300.6 C221.2 301.8 225.6 305.0 227.2 307.8 C228.8 310.6 229.2 315.8 229.6 317.3" stroke-width="1.5" fill="none" />
<path d="M171.7 348.5 L177.3 351.3 L177.3 414.1 L190.3 419.2" stroke-width="1.5" fill="none" stroke-dasharray="5 3.5"/>
<path d="M182.9 354.7 L190.3 358.4" stroke-width="1.5" fill="none" />
<path d="M190.0 324.3 C190.7 324.5 192.7 324.5 194.3 325.7 C195.9 326.9 197.6 329.6 199.3 331.5 C201.0 333.4 203.5 336.2 204.3 337.2" stroke-width="1.5" fill="none" />
<path d="M204.3 337.2 C204.2 337.9 203.5 340.2 203.6 341.5 C203.7 342.8 204.2 344.1 205.1 345.1 C205.9 346.0 207.4 346.9 208.6 347.2 C209.8 347.6 210.8 347.7 212.2 347.1 C213.7 346.5 215.9 345.1 217.2 343.7 C218.6 342.2 219.8 340.0 220.1 338.6 C220.4 337.3 219.9 336.2 219.0 335.4 C218.2 334.6 216.8 334.4 215.1 334.0 C213.4 333.6 210.4 332.4 208.6 332.9 C206.8 333.4 205.1 336.5 204.3 337.2" stroke-width="1.6" fill="none" />
<ellipse cx="214.4" cy="341.5" rx="2.9" ry="4.4" transform="rotate(30 214.4 341.5)" stroke-width="2.6" fill="none" />
<ellipse cx="214.4" cy="341.5" rx="1.1" ry="2.4" transform="rotate(30 214.4 341.5)" stroke-width="1.3" fill="none" />
<path d="M215.1 335.4 C216.3 334.4 220.2 330.5 222.3 329.3 C224.3 328.1 226.2 328.0 227.3 328.2 C228.4 328.5 229.4 329.5 228.7 330.8 C228.0 332.0 224.4 334.6 223.0 335.8 C221.5 336.9 220.6 337.3 220.1 337.6" stroke-width="1.6" fill="none" />
<path d="M208.3 348.3 L206.8 353.7" stroke-width="1.6" fill="none" />
<path d="M211.9 348.3 L210.1 355.8" stroke-width="1.6" fill="none" />
<path d="M210.8 358.7 C210.1 358.1 208.2 355.8 206.5 355.1 C204.8 354.4 202.5 354.1 200.8 354.4 C199.0 354.8 197.0 355.6 195.7 357.3 C194.4 358.9 193.2 361.8 192.9 364.4 C192.5 367.1 192.6 370.9 193.6 373.0 C194.5 375.2 196.9 376.3 198.6 377.3 C200.3 378.4 201.9 379.1 203.6 379.5 C205.3 379.9 207.8 379.5 208.6 379.5" stroke-width="1.7" fill="none" />
<path d="M202.9 377.3 C202.9 376.2 202.4 372.4 202.9 370.2 C203.4 367.9 204.5 365.4 205.8 363.7 C207.1 362.1 209.2 360.7 210.8 360.1 C212.3 359.5 213.8 359.4 215.1 360.1 C216.3 360.9 217.9 362.8 218.3 364.4 C218.7 366.1 217.7 369.2 217.6 370.2" stroke-width="1.6" fill="none" />
<path d="M211.5 374.5 C210.8 374.3 208.0 374.4 207.2 373.4 C206.4 372.4 206.0 370.1 206.5 368.7 C207.0 367.4 208.9 365.6 210.1 365.2 C211.3 364.7 212.7 365.2 213.7 365.9 C214.6 366.6 215.4 368.9 215.8 369.5" stroke-width="1.6" fill="none" />
<path d="M210.8 358.7 C211.7 358.5 214.7 358.4 216.5 357.3 C218.3 356.2 220.1 352.7 221.5 352.3 C223.0 351.8 224.3 352.9 225.1 354.4 C226.0 356.0 226.8 358.9 226.6 361.6 C226.3 364.2 224.5 368.3 223.7 370.2 C222.9 372.1 221.9 372.6 221.5 373.0" stroke-width="1.6" fill="none" />
<path d="M223.0 336.5 C223.2 338.5 224.6 345.9 224.4 348.7 C224.2 351.4 222.0 352.3 221.5 353.0" stroke-width="1.5" fill="none" />
<path d="M220.8 320.0 C222.4 321.9 228.4 327.9 230.1 331.5 C231.9 335.1 231.5 336.2 231.6 341.5 C231.7 346.8 232.1 357.5 230.9 363.0 C229.7 368.5 225.5 372.6 224.4 374.5" stroke-width="1.7" fill="none" />
<path d="M230.1 320.7 C231.1 323.0 234.3 329.7 235.9 334.3 C237.4 339.0 238.7 343.9 239.5 348.7 C240.2 353.5 240.2 358.0 240.2 363.0 C240.2 368.0 239.2 375.9 239.5 378.8 C239.7 381.6 241.3 380.0 241.6 380.2" stroke-width="1.6" fill="none" />
<path d="M233.0 322.9 C234.2 324.2 238.0 327.6 240.2 330.8 C242.3 333.9 244.4 337.9 245.9 341.5 C247.5 345.1 248.9 350.5 249.5 352.3" stroke-width="1.5" fill="none" />
<path d="M203.6 380.9 C203.4 382.7 202.1 388.5 202.2 391.7 C202.3 394.9 204.0 398.6 204.3 400.0" stroke-width="1.5" fill="none" />
<path d="M212.2 376.6 C212.3 378.2 213.4 384.3 212.9 385.9 C212.5 387.6 210.0 386.5 209.4 386.7" stroke-width="1.5" fill="none" />
<path d="M215.8 378.8 C216.3 379.4 218.2 380.3 218.7 382.4 C219.2 384.4 219.3 389.4 218.7 391.0 C218.1 392.5 215.8 390.2 215.1 391.7 C214.4 393.2 214.5 398.6 214.4 400.0" stroke-width="1.5" fill="none" />
<path d="M207.9 391.0 L209.4 400.0" stroke-width="1.5" fill="none" />
<path d="M204.1 436.3 C203.5 436.5 202.0 437.8 200.3 437.3 C198.5 436.8 195.2 434.9 193.6 433.5 C192.0 432.0 190.9 430.9 190.7 428.7 C190.6 426.4 191.4 422.3 192.6 420.1 C193.9 417.8 196.3 416.3 198.4 415.3 C200.5 414.3 203.2 414.0 205.1 414.3 C207.0 414.7 209.1 416.7 209.9 417.2" stroke-width="1.6" fill="none" />
<path d="M200.3 434.4 C200.8 432.8 201.7 427.2 203.2 424.9 C204.6 422.5 207.0 421.5 208.9 420.6 C210.8 419.6 213.0 418.7 214.6 419.1 C216.2 419.5 218.0 421.0 218.5 422.9 C218.9 424.9 217.7 429.3 217.5 430.6" stroke-width="1.5" fill="none" />
<path d="M205.1 433.5 C205.2 432.5 205.1 429.2 206.0 427.7 C207.0 426.3 209.5 424.9 210.8 424.9 C212.1 424.9 213.2 427.2 213.7 427.7" stroke-width="1.5" fill="none" />
<path d="M204.1 400.0 C204.8 401.0 207.9 403.5 207.9 405.7 C207.9 408.0 204.8 412.1 204.1 413.4" stroke-width="1.5" fill="none" />
<path d="M213.7 400.0 C214.0 401.3 216.2 404.8 215.6 407.6 C215.0 410.5 210.8 415.6 209.9 417.2" stroke-width="1.5" fill="none" />
<path d="M215.6 407.6 C216.5 408.8 219.7 411.8 221.3 414.3 C222.9 416.9 224.5 421.5 225.2 422.9" stroke-width="1.5" fill="none" />
<ellipse cx="201.7" cy="447.8" rx="2.7" ry="3.8" transform="rotate(20 201.7 447.8)" stroke-width="1.5" fill="none" />
<path d="M196.5 448.8 C197.0 449.4 197.7 451.6 199.3 452.6 C200.9 453.5 203.8 454.0 206.0 454.5 C208.3 455.0 211.4 455.0 212.7 455.4 C214.0 455.9 211.6 456.6 213.7 457.4 C215.8 458.2 222.3 459.6 225.2 460.2 C228.0 460.9 229.5 461.5 230.9 461.2 C232.3 460.9 233.3 458.8 233.8 458.3" stroke-width="1.7" fill="none" />
<path d="M210.8 446.8 C211.0 445.7 210.7 441.9 211.8 440.2 C212.9 438.4 215.6 437.0 217.5 436.3 C219.4 435.7 221.9 435.6 223.2 436.3 C224.6 437.0 225.6 438.9 225.6 440.6 C225.7 442.4 225.0 444.9 223.7 446.8 C222.4 448.8 219.8 451.4 218.0 452.1 C216.2 452.8 213.9 452.0 212.7 451.1 C211.5 450.3 211.1 447.6 210.8 446.8" stroke-width="1.6" fill="none" />
<ellipse cx="219.9" cy="446.8" rx="2.9" ry="4.8" transform="rotate(20 219.9 446.8)" stroke-width="3.0" fill="none" />
<path d="M226.1 428.7 L228.0 447.8" stroke-width="1.5" fill="none" />
<path d="M225.2 453.5 L225.2 459.3" stroke-width="1.5" fill="none" />
<path d="M239.5 422.0 C240.6 422.8 243.3 425.7 246.2 426.8 C249.1 427.9 253.6 428.8 256.7 428.7 C259.8 428.5 263.6 426.3 265.0 425.8" stroke-width="1.6" fill="none" />
<path d="M240.0 422.9 L239.5 455.4" stroke-width="2.8" fill="none" />
<path d="M235.7 438.2 C235.4 440.5 234.1 449.4 233.8 451.6" stroke-width="1.4" fill="none" />
<path d="M242.8 428.7 C242.5 432.8 241.2 449.4 240.9 453.5" stroke-width="1.4" fill="none" />
<path d="M246.7 428.7 C246.2 432.5 244.3 447.8 243.8 451.6" stroke-width="1.4" fill="none" />
<path d="M251.4 429.6 C251.0 432.7 249.1 444.8 248.6 447.8" stroke-width="1.4" fill="none" />
<path d="M257.2 428.7 C256.9 431.4 257.9 440.5 255.3 444.9 C252.6 449.4 243.7 453.7 241.4 455.4" stroke-width="1.6" fill="none" />
<path d="M237.1 400.0 L237.6 415.3" stroke-width="1.5" fill="none" />
<path d="M247.1 400.0 L247.1 409.6 L257.7 400.0" stroke-width="1.5" fill="none" />
<path d="M218.1 375.7 L260.0 394.3" stroke-width="1.4" fill="none" stroke-dasharray="6 5"/>
<path d="M243.4 385.1 C244.8 382.9 248.1 375.8 251.7 371.7 C255.4 367.7 260.9 363.3 265.1 360.9 C269.3 358.4 273.5 357.7 276.8 357.1 C280.2 356.5 282.7 356.1 285.2 357.5 C287.7 359.0 290.6 362.3 291.9 365.9 C293.2 369.5 293.2 374.7 292.9 379.3 C292.6 383.9 292.0 388.6 290.2 393.5 C288.4 398.4 285.2 403.8 281.8 408.5 C278.5 413.3 274.2 418.6 270.1 421.9 C266.1 425.3 261.2 427.6 257.6 428.6 C254.0 429.6 251.2 428.7 248.4 427.8 C245.6 426.8 242.6 424.8 240.9 422.7 C239.1 420.7 238.5 418.3 237.9 415.2 C237.4 412.2 237.0 408.1 237.5 404.3 C238.0 400.6 239.9 395.8 240.9 392.6 C241.8 389.4 243.0 386.4 243.4 385.1" stroke-width="1.6" fill="none" />
<path d="M251.7 416.1 C252.7 416.3 254.8 418.1 257.6 417.7 C260.4 417.3 265.0 415.9 268.5 413.5 C271.9 411.2 275.8 407.3 278.5 403.5 C281.1 399.7 283.2 395.0 284.3 391.0 C285.5 386.9 286.0 382.7 285.6 379.3 C285.2 375.8 283.6 372.1 281.8 370.1 C280.1 368.0 277.7 367.3 275.2 367.1 C272.6 367.0 269.7 367.5 266.8 369.2 C263.9 371.0 260.4 374.2 257.6 377.6 C254.8 380.9 251.3 387.3 250.1 389.3" stroke-width="1.6" fill="none" />
<path d="M266.7 370.2 C266.4 372.1 265.7 378.0 264.7 381.9 C263.8 385.8 261.5 391.7 260.8 393.7" stroke-width="1.3" fill="none" />
<path d="M247.2 396.7 L248.2 406.6 L257.1 400.5" stroke-width="1.3" fill="none" />
<path d="M239.8 391.8 C239.4 393.9 237.5 400.0 237.3 404.2 C237.1 408.3 238.3 414.5 238.5 416.5" stroke-width="1.3" fill="none" />
<ellipse cx="252.8" cy="346.1" rx="4.7" ry="3.2" transform="rotate(20 252.8 346.1)" stroke-width="1.5" fill="none" />
<ellipse cx="252.8" cy="346.1" rx="1.9" ry="1.2" transform="rotate(20 252.8 346.1)" stroke-width="1.3" fill="none" />
<ellipse cx="245.3" cy="341.7" rx="2.7" ry="2.2" transform="rotate(20 245.3 341.7)" stroke-width="1.3" fill="none" />
<path d="M237.3 330.0 C238.5 333.3 241.8 345.7 244.7 349.8 C247.6 353.9 251.9 354.9 254.6 354.7 C257.3 354.5 259.8 349.6 260.8 348.5" stroke-width="1.3" fill="none" />
<path d="M269.4 351.0 C270.9 351.3 276.7 352.6 278.1 352.9" stroke-width="1.5" fill="none" />
<path d="M279.3 353.5 C280.6 353.9 284.3 356.2 286.7 356.0 C289.2 355.8 292.5 354.9 294.2 352.2 C295.8 349.6 296.2 341.9 296.6 339.9" stroke-width="1.5" fill="none" />
<path d="M297.3 330.0 C297.5 334.1 299.0 347.1 298.5 354.7 C298.0 362.3 294.9 372.2 294.2 375.7" stroke-width="1.5" fill="none" />
<path d="M220.0 431.4 C221.0 432.2 224.7 433.8 226.2 436.3 C227.6 438.8 228.2 444.5 228.7 446.2" stroke-width="1.3" fill="none" />
<path d="M 93.1 300.2 L 104.4 292.5 C 106.8 291.3 109.5 294.0 109.3 296.9 C 109.1 299.0 108.1 299.8 106.8 300.4 L 93.7 309.2" stroke-width="1.9" fill="#fff" />
<ellipse cx="96.4" cy="302.4" rx="1.8" ry="3.5" transform="rotate(-32 96.4 302.4)" stroke-width="1.5" fill="none" />
<ellipse cx="99.6" cy="300.4" rx="1.8" ry="3.5" transform="rotate(-32 99.6 300.4)" stroke-width="1.5" fill="none" />
<ellipse cx="102.9" cy="298.3" rx="1.8" ry="3.5" transform="rotate(-32 102.9 298.3)" stroke-width="1.5" fill="none" />
<ellipse cx="106.2" cy="296.2" rx="1.8" ry="3.5" transform="rotate(-32 106.2 296.2)" stroke-width="1.5" fill="none" />
<ellipse cx="90.8" cy="306.2" rx="3.5" ry="3.8" transform="rotate(25 90.8 306.2)" stroke-width="1.9" fill="#fff" />
<path d="M 71.3 307.1 L 71.3 313.7 L 72.8 317.3 L 78.1 321.4 L 81.7 320.8 L 88.9 315.5 L 89.2 310.7 L 87.1 304.1 L 82.9 302.3 L 78.1 302.6 L 75.8 304.1 Z" stroke-width="2.0" fill="#fff" />
<path d="M 76.9 304.7 L 81.1 307.1 L 87.7 305.3 M 81.1 307.1 L 82.9 312.5 L 82.9 320.2 M 82.9 312.5 L 88.9 311.3" stroke-width="1.8" fill="none" />
<path d="M 123.0 315.5 L 130.1 319.6 L 151.8 331.8 L 168.5 341.4 C 169.8 343.5 168.5 347.7 166.0 348.1 L 148.5 339.3 L 125.1 326.8 L 119.2 322.2" stroke-width="1.9" fill="#fff" />
<ellipse cx="151.4" cy="336.8" rx="1.8" ry="4.0" transform="rotate(30 151.4 336.8)" stroke-width="1.6" fill="none" />
<ellipse cx="155.2" cy="338.9" rx="1.8" ry="4.0" transform="rotate(30 155.2 338.9)" stroke-width="1.6" fill="none" />
<ellipse cx="158.9" cy="341.0" rx="1.8" ry="4.0" transform="rotate(30 158.9 341.0)" stroke-width="1.6" fill="none" />
<ellipse cx="162.7" cy="343.1" rx="1.8" ry="4.0" transform="rotate(30 162.7 343.1)" stroke-width="1.6" fill="none" />
<ellipse cx="166.5" cy="345.2" rx="1.8" ry="4.0" transform="rotate(30 166.5 345.2)" stroke-width="1.6" fill="none" />
<path d="M 108.3 316.7 L 110.9 310.9 L 116.7 307.5 L 120.9 307.9 L 126.7 309.2 L 129.7 313.4 L 129.7 318.0 L 124.2 326.8 L 117.5 329.3 L 114.2 326.8 L 110.0 322.6 Z" stroke-width="2.0" fill="#fff" />
<path d="M 115.9 309.2 L 119.6 310.9 L 120.5 313.8 M 110.0 319.2 L 114.2 322.6 L 115.0 319.2" stroke-width="1.6" fill="none" />
<path d="M 130.1 319.6 C 128.4 316.7 125.1 314.6 122.1 315.5 C 119.2 316.7 118.4 320.1 119.2 322.2 C 120.5 325.1 123.4 326.8 125.5 326.8" stroke-width="1.9" fill="none" />
<path d="M 130.1 319.6 L 130.1 320.1" stroke-width="1.9" fill="none" />
<path d="M111.6 293.6 L132.4 281.7" stroke-width="1.5" fill="none" stroke-dasharray="6 5"/>
<ellipse cx="182.2" cy="531.1" rx="3.9" ry="4.4" transform="rotate(10 182.2 531.1)" stroke-width="1.4" fill="none" />
<ellipse cx="183.8" cy="531.5" rx="2.4" ry="3.0" transform="rotate(10 183.8 531.5)" stroke-width="1.2" fill="none" />
<path d="M186.5 530.9 L193.7 531.5" stroke-width="1.3" fill="none" />
<path d="M186.5 534.4 L186.5 540.5" stroke-width="2.4" fill="none" />
<path d="M184.4 540.1 L192.6 536.5" stroke-width="1.6" fill="none" />
<path d="M199.1 529.7 C199.0 528.8 198.0 526.1 198.5 524.3 C199.1 522.6 201.0 520.3 202.3 519.3 C203.6 518.3 204.8 518.1 206.2 518.5 C207.7 518.8 210.1 521.0 210.9 521.5" stroke-width="1.5" fill="none" />
<path d="M203.7 528.8 C205.4 527.8 211.3 523.9 213.7 523.0 C216.2 522.2 217.6 523.5 218.4 523.6" stroke-width="1.5" fill="none" />
<path d="M202.3 528.8 L202.3 538.0" stroke-width="2.2" fill="none" />
<path d="M195.8 538.7 L203.7 538.3" stroke-width="2.6" fill="none" />
<path d="M175.0 543.1 C176.6 542.5 180.9 540.3 184.4 539.5 C187.8 538.8 193.9 538.8 195.8 538.7" stroke-width="1.3" fill="none" stroke-dasharray="4 2"/>
<path d="M207.3 538.3 C208.4 538.5 210.8 538.9 213.7 539.4 C216.7 539.9 223.1 540.9 225.0 541.2" stroke-width="1.3" fill="none" stroke-dasharray="5 3"/>
<path d="M172.9 544.4 C172.9 545.1 172.7 547.3 173.0 548.7 C173.3 550.1 174.0 551.6 174.7 552.7 C175.3 553.7 176.5 554.4 176.8 554.8" stroke-width="1.8" fill="none" />
<path d="M186.5 540.8 C185.5 542.4 182.4 547.6 180.8 550.1 C179.2 552.7 177.5 554.9 176.8 555.9" stroke-width="1.3" fill="none" />
<ellipse cx="177.9" cy="561.6" rx="2.0" ry="2.9" transform="rotate(20 177.9 561.6)" stroke-width="1.4" fill="none" />
<path d="M176.8 554.8 C176.6 555.6 175.3 557.8 175.8 559.5 C176.2 561.1 178.6 562.7 179.3 564.5 C180.1 566.2 180.2 569.1 180.4 570.0" stroke-width="1.4" fill="none" />
<path d="M182.2 554.4 C182.6 555.4 184.5 558.3 184.7 560.2 C185.0 562.0 183.9 564.7 183.8 565.6" stroke-width="1.2" fill="none" stroke-dasharray="4 3"/>
<path d="M194.4 552.3 C194.1 554.1 192.2 560.7 192.6 563.0 C193.0 565.4 194.9 565.5 196.5 566.6 C198.2 567.8 201.3 569.4 202.3 570.0" stroke-width="1.4" fill="none" />
<path d="M212.3 532.9 L216.6 533.7 L223.1 530.1 L223.8 537.2" stroke-width="1.6" fill="none" />
<path d="M220.9 522.2 L224.5 517.2" stroke-width="1.4" fill="none" />
<path d="M221.7 524.1 C222.0 523.0 221.5 519.3 223.6 517.4 C225.7 515.5 232.4 513.4 234.1 512.6" stroke-width="1.3" fill="none" />
<path d="M240.8 512.2 C242.1 512.6 246.1 513.5 248.5 514.6 C250.9 515.6 252.6 516.3 255.2 518.4 C257.7 520.5 262.3 524.6 263.8 527.0 C265.2 529.4 263.8 531.8 263.8 532.7" stroke-width="1.6" fill="none" />
<path d="M234.1 513.6 L263.8 532.7" stroke-width="1.3" fill="none" />
<path d="M263.8 533.7 C264.9 535.8 268.5 542.9 270.4 546.1 C272.4 549.3 274.5 550.1 275.2 552.8 C275.9 555.5 275.7 559.5 274.8 562.4 C273.8 565.2 271.3 568.1 269.5 570.0 C267.7 571.9 264.7 573.2 263.8 573.8" stroke-width="2.0" fill="none" />
<path d="M222.6 536.5 C225.5 537.7 234.8 541.0 239.9 543.2 C245.0 545.5 249.1 548.7 253.2 549.9 C257.4 551.2 262.8 548.8 264.7 550.9 C266.6 553.0 264.4 558.9 264.7 562.4 C265.0 565.9 266.3 570.3 266.6 571.9" stroke-width="1.3" fill="none" />
<path d="M253.2 549.9 L253.2 540.4 L260.9 536.5 L264.7 534.6" stroke-width="1.3" fill="none" />
<path d="M259.9 539.4 C259.9 540.7 259.1 545.0 259.9 547.1 C260.7 549.1 263.9 551.0 264.7 551.8" stroke-width="1.3" fill="none" />
<path d="M252.5 566.3 C251.8 567.9 249.7 572.0 248.3 576.1 C246.9 580.2 245.2 585.9 244.1 590.8 C243.0 595.7 241.9 599.6 241.7 605.5 C241.4 611.5 242.5 623.0 242.7 626.5" stroke-width="1.5" fill="none" />
<path d="M263.7 561.4 C262.9 562.6 260.4 565.1 258.8 568.4 C257.2 571.7 255.2 576.6 253.9 581.0 C252.6 585.4 251.8 590.3 251.1 595.0 C250.4 599.7 249.8 604.4 249.7 609.0 C249.6 613.7 249.9 619.5 250.4 623.0 C250.9 626.5 252.2 628.9 252.5 630.0" stroke-width="1.4" fill="none" />
<path d="M274.9 560.0 C273.5 561.9 268.5 568.6 266.5 571.2 C264.5 573.8 263.6 574.1 263.0 575.4 C262.4 576.7 262.2 578.3 263.0 578.9 C263.8 579.5 267.1 578.9 267.9 578.9" stroke-width="2.0" fill="none" />
<path d="M267.9 578.9 C267.7 580.4 266.7 584.2 266.5 588.0 C266.3 591.9 266.5 597.3 266.5 602.0 C266.5 606.7 266.9 612.3 266.5 616.0 C266.2 619.8 265.8 621.7 264.4 624.4 C263.0 627.1 260.1 630.3 258.1 632.1 C256.1 634.0 253.4 635.0 252.5 635.6" stroke-width="2.6" fill="none" />
<path d="M263.0 580.3 C261.8 581.4 257.9 584.2 256.0 586.6 C254.1 589.1 252.7 592.7 251.8 595.0 C250.9 597.3 250.6 599.7 250.4 600.6" stroke-width="1.3" fill="none" />
<path d="M259.5 603.4 C259.3 604.4 258.6 607.4 258.1 609.0 C257.6 610.7 256.6 611.4 256.7 613.2 C256.8 615.1 257.8 620.0 258.8 620.2 C259.9 620.5 262.1 616.3 263.0 614.6 C263.9 613.0 264.2 611.1 264.4 610.4" stroke-width="1.5" fill="none" />
<path d="M258.1 621.6 C257.3 623.0 254.0 628.6 253.2 630.0" stroke-width="1.3" fill="none" />
<path d="M235.0 634.9 C236.1 634.9 238.6 635.0 241.3 634.9 C244.0 634.8 248.3 634.8 251.1 634.2 C253.9 633.6 256.9 631.9 258.1 631.4" stroke-width="1.3" fill="none" stroke-dasharray="5 2.5"/>
<path d="M239.6 634.2 L240.3 641.2" stroke-width="3.0" fill="none" />
<path d="M258.8 596.4 L264.4 595.7" stroke-width="1.3" fill="none" />
<path d="M183.6 560.0 C183.8 563.0 184.2 571.2 184.8 577.9 C185.4 584.7 185.6 595.6 187.2 600.6 C188.8 605.6 191.4 605.2 194.3 607.8 C197.3 610.4 201.1 613.4 205.1 616.2 C209.1 618.9 212.5 621.3 218.2 624.5 C224.0 627.7 236.2 633.5 239.7 635.3" stroke-width="1.3" fill="none" />
<path d="M206.3 618.5 C206.2 619.5 204.9 622.7 205.7 624.5 C206.5 626.3 207.0 626.5 211.1 629.3 C215.1 632.1 226.0 639.2 230.2 641.2 C234.4 643.3 234.6 642.0 236.2 641.8 C237.7 641.6 237.1 641.1 239.7 640.0 C242.3 639.0 249.7 636.1 251.7 635.3" stroke-width="1.3" fill="none" />
<path d="M196.7 567.2 C200.5 569.6 214.8 577.7 219.4 581.5 C224.0 585.3 223.8 587.5 224.2 589.9 C224.6 592.3 222.8 594.4 221.8 595.8 C220.8 597.2 218.8 597.8 218.2 598.2" stroke-width="1.3" fill="none" />
<path d="M208.7 573.1 L208.7 585.1" stroke-width="1.3" fill="none" />
<path d="M197.9 567.2 L194.9 582.7" stroke-width="1.3" fill="none" />
<path d="M239.5 636.5 L241 642 L238 642 Z" stroke-width="1.2" fill="#000"/>
<path d="M 204.1 636.0 L 197.1 651.5 L 204.8 651.5 Z" stroke-width="1.0" fill="#000" />
<path d="M203.8 651.5 L203.8 695.9" stroke-width="1.9" fill="none" stroke-dasharray="8 3.4"/>
<path d="M 146.5 708.1 C 151.5 704.8 160.1 703.1 168.0 704.3 C 171.6 704.8 174.4 706.7 175.9 708.1 L 166.6 709.1 C 165.1 714.6 163.7 718.2 158.0 718.6 C 152.9 718.9 149.4 716.7 146.9 715.7" stroke-width="1.6" fill="none" />
<path d="M 145.5 706.0 C 143.6 710.3 144.1 715.3 146.1 717.7" stroke-width="3.4" fill="none" />
<path d="M 56.5 1175.9 L 74.7 1144.7 L 78.0 1146.5 L 79.5 1153.7 L 109.6 1138.2 L 112.9 1140.1 L 112.9 1158.0 L 79.5 1175.2 L 78.7 1190.3 Z" stroke-width="2.4" fill="none" />
<path d="M 60.8 1175.9 L 76.2 1149.4 M 62.3 1177.6 L 77.3 1186.7" stroke-width="1.3" fill="none" />
<path d="M 79.5 1158.7 L 109.6 1143.7 L 109.6 1156.6 L 80.2 1173.0" stroke-width="1.3" fill="none" />
<text x="0" y="0" font-size="17" style="font-weight:bold;stroke:#000;stroke-width:0.7" transform="translate(79.5 1174.5) rotate(-28) skewX(-12)" textLength="31" lengthAdjust="spacingAndGlyphs">FWD</text>
<path d="M256.7 409.1 L130.5 481.2 L196.2 516.7" stroke-width="1.5" fill="none" stroke-dasharray="6 4.5"/>
<path d="M225.2 449.7 L416.2 556.5" stroke-width="1.5" fill="none" stroke-dasharray="6 4.5"/>
</g>
</svg>
</body></html>
